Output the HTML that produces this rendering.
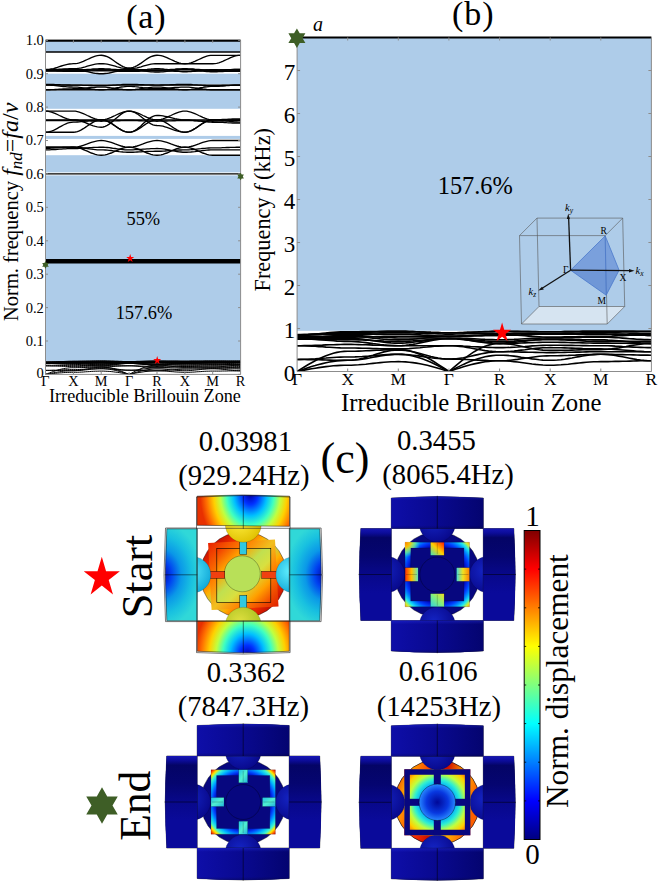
<!DOCTYPE html>
<html><head><meta charset="utf-8"><style>
html,body{margin:0;padding:0;background:#fff;width:660px;height:885px;overflow:hidden;font-family:"Liberation Serif",serif;}
svg{display:block;}
</style></head><body>
<svg width="660" height="885" viewBox="0 0 660 885">
<defs>
<clipPath id="ca"><rect x="45.5" y="39.3" width="195.1" height="335.1"/></clipPath>
<clipPath id="cb"><rect x="297.1" y="36.5" width="354.3" height="335.0"/></clipPath>
</defs>
<rect x="45.5" y="40.3" width="195.1" height="11.7" fill="#aecce9"/>
<rect x="45.5" y="73.7" width="195.1" height="10.7" fill="#aecce9"/>
<rect x="45.5" y="90.4" width="195.1" height="18.4" fill="#aecce9"/>
<rect x="45.5" y="135.9" width="195.1" height="3.0" fill="#aecce9"/>
<rect x="45.5" y="155.2" width="195.1" height="17.2" fill="#aecce9"/>
<rect x="45.5" y="175.4" width="195.1" height="83.7" fill="#aecce9"/>
<rect x="45.5" y="262.1" width="195.1" height="98.9" fill="#aecce9"/>
<g clip-path="url(#ca)" fill="none" stroke="#000" stroke-width="1.35">
<path d="M45.5,40.3 L47.5,40.3 L49.5,40.3 L51.5,40.3 L53.5,40.3 L55.5,40.3 L57.4,40.3 L59.4,40.3 L61.4,40.3 L63.4,40.3 L65.4,40.3 L67.4,40.3 L69.4,40.3 L71.4,40.3 L73.4,40.3 L75.4,40.3 L77.4,40.3 L79.3,40.3 L81.3,40.3 L83.3,40.3 L85.3,40.3 L87.3,40.3 L89.3,40.3 L91.3,40.3 L93.3,40.3 L95.3,40.3 L97.3,40.3 L99.3,40.3 L101.2,40.3 L103.2,40.3 L105.2,40.3 L107.2,40.3 L109.2,40.3 L111.2,40.3 L113.2,40.3 L115.2,40.3 L117.2,40.3 L119.2,40.3 L121.2,40.3 L123.1,40.3 L125.1,40.3 L127.1,40.3 L129.1,40.3 L131.1,40.3 L133.1,40.3 L135.1,40.3 L137.1,40.3 L139.1,40.3 L141.1,40.3 L143.0,40.3 L145.0,40.3 L147.0,40.3 L149.0,40.3 L151.0,40.3 L153.0,40.3 L155.0,40.3 L157.0,40.3 L159.0,40.3 L161.0,40.3 L163.0,40.3 L164.9,40.3 L166.9,40.3 L168.9,40.3 L170.9,40.3 L172.9,40.3 L174.9,40.3 L176.9,40.3 L178.9,40.3 L180.9,40.3 L182.9,40.3 L184.9,40.3 L186.8,40.3 L188.8,40.3 L190.8,40.3 L192.8,40.3 L194.8,40.3 L196.8,40.3 L198.8,40.3 L200.8,40.3 L202.8,40.3 L204.8,40.3 L206.8,40.3 L208.7,40.3 L210.7,40.3 L212.7,40.3 L214.7,40.3 L216.7,40.3 L218.7,40.3 L220.7,40.3 L222.7,40.3 L224.7,40.3 L226.7,40.3 L228.7,40.3 L230.6,40.3 L232.6,40.3 L234.6,40.3 L236.6,40.3 L238.6,40.3 L240.6,40.3"/>
<path d="M45.5,52.0 L47.5,52.0 L49.5,52.0 L51.5,52.0 L53.5,52.0 L55.5,52.0 L57.4,52.0 L59.4,52.0 L61.4,52.0 L63.4,52.0 L65.4,52.0 L67.4,52.0 L69.4,52.0 L71.4,52.0 L73.4,52.0 L75.4,52.0 L77.4,52.0 L79.3,52.0 L81.3,52.0 L83.3,52.0 L85.3,52.0 L87.3,52.0 L89.3,52.0 L91.3,52.0 L93.3,52.0 L95.3,52.0 L97.3,52.0 L99.3,52.0 L101.2,52.0 L103.2,52.0 L105.2,52.0 L107.2,52.0 L109.2,52.0 L111.2,52.0 L113.2,52.0 L115.2,52.0 L117.2,52.0 L119.2,52.0 L121.2,52.0 L123.1,52.0 L125.1,52.0 L127.1,52.0 L129.1,52.0 L131.1,52.0 L133.1,52.0 L135.1,52.0 L137.1,52.0 L139.1,52.0 L141.1,52.0 L143.0,52.0 L145.0,52.0 L147.0,52.0 L149.0,52.0 L151.0,52.0 L153.0,52.0 L155.0,52.0 L157.0,52.0 L159.0,52.0 L161.0,52.0 L163.0,52.0 L164.9,52.0 L166.9,52.0 L168.9,52.0 L170.9,52.0 L172.9,52.0 L174.9,52.0 L176.9,52.0 L178.9,52.0 L180.9,52.0 L182.9,52.0 L184.9,52.0 L186.8,52.0 L188.8,52.0 L190.8,52.0 L192.8,52.0 L194.8,52.0 L196.8,52.0 L198.8,52.0 L200.8,52.0 L202.8,52.0 L204.8,52.0 L206.8,52.0 L208.7,52.0 L210.7,52.0 L212.7,52.0 L214.7,52.0 L216.7,52.0 L218.7,52.0 L220.7,52.0 L222.7,52.0 L224.7,52.0 L226.7,52.0 L228.7,52.0 L230.6,52.0 L232.6,52.0 L234.6,52.0 L236.6,52.0 L238.6,52.0 L240.6,52.0"/>
<path d="M45.5,69.7 L47.5,69.6 L49.5,69.4 L51.5,69.0 L53.5,68.6 L55.5,68.0 L57.4,67.4 L59.4,66.7 L61.4,66.0 L63.4,65.4 L65.4,64.8 L67.4,64.3 L69.4,64.0 L71.4,63.8 L73.4,63.7 L75.4,63.6 L77.4,63.3 L79.3,62.8 L81.3,62.1 L83.3,61.3 L85.3,60.4 L87.3,59.5 L89.3,58.6 L91.3,57.7 L93.3,56.9 L95.3,56.2 L97.3,55.7 L99.3,55.4 L101.2,55.3 L103.2,55.5 L105.2,56.0 L107.2,56.7 L109.2,57.7 L111.2,58.9 L113.2,60.3 L115.2,61.7 L117.2,63.1 L119.2,64.4 L121.2,65.6 L123.1,66.6 L125.1,67.4 L127.1,67.9 L129.1,68.0 L131.1,67.9 L133.1,67.4 L135.1,66.6 L137.1,65.6 L139.1,64.4 L141.1,63.1 L143.0,61.7 L145.0,60.3 L147.0,58.9 L149.0,57.7 L151.0,56.7 L153.0,56.0 L155.0,55.5 L157.0,55.3 L159.0,55.4 L161.0,55.7 L163.0,56.2 L164.9,56.9 L166.9,57.7 L168.9,58.6 L170.9,59.5 L172.9,60.4 L174.9,61.3 L176.9,62.1 L178.9,62.8 L180.9,63.3 L182.9,63.6 L184.9,63.7 L186.8,63.6 L188.8,63.3 L190.8,62.8 L192.8,62.1 L194.8,61.3 L196.8,60.4 L198.8,59.5 L200.8,58.6 L202.8,57.7 L204.8,56.9 L206.8,56.2 L208.7,55.7 L210.7,55.4 L212.7,55.3 L214.7,55.3 L216.7,55.3 L218.7,55.3 L220.7,55.3 L222.7,55.3 L224.7,55.3 L226.7,55.3 L228.7,55.3 L230.6,55.3 L232.6,55.3 L234.6,55.3 L236.6,55.3 L238.6,55.3 L240.6,55.3"/>
<path d="M45.5,69.7 L47.5,69.7 L49.5,69.7 L51.5,69.6 L53.5,69.5 L55.5,69.4 L57.4,69.3 L59.4,69.2 L61.4,69.1 L63.4,69.0 L65.4,68.9 L67.4,68.8 L69.4,68.7 L71.4,68.7 L73.4,68.7 L75.4,68.6 L77.4,68.5 L79.3,68.2 L81.3,67.8 L83.3,67.3 L85.3,66.8 L87.3,66.2 L89.3,65.6 L91.3,65.1 L93.3,64.6 L95.3,64.2 L97.3,63.9 L99.3,63.7 L101.2,63.7 L103.2,63.7 L105.2,63.9 L107.2,64.2 L109.2,64.6 L111.2,65.1 L113.2,65.6 L115.2,66.2 L117.2,66.8 L119.2,67.3 L121.2,67.8 L123.1,68.2 L125.1,68.5 L127.1,68.6 L129.1,68.7 L131.1,68.6 L133.1,68.5 L135.1,68.2 L137.1,67.8 L139.1,67.3 L141.1,66.8 L143.0,66.2 L145.0,65.6 L147.0,65.1 L149.0,64.6 L151.0,64.2 L153.0,63.9 L155.0,63.7 L157.0,63.7 L159.0,63.7 L161.0,63.7 L163.0,63.7 L164.9,63.7 L166.9,63.7 L168.9,63.7 L170.9,63.7 L172.9,63.7 L174.9,63.7 L176.9,63.7 L178.9,63.7 L180.9,63.7 L182.9,63.7 L184.9,63.7 L186.8,63.7 L188.8,63.7 L190.8,63.7 L192.8,63.7 L194.8,63.7 L196.8,63.7 L198.8,63.7 L200.8,63.7 L202.8,63.7 L204.8,63.7 L206.8,63.7 L208.7,63.7 L210.7,63.7 L212.7,63.7 L214.7,63.6 L216.7,63.3 L218.7,62.8 L220.7,62.1 L222.7,61.3 L224.7,60.4 L226.7,59.5 L228.7,58.6 L230.6,57.7 L232.6,56.9 L234.6,56.2 L236.6,55.7 L238.6,55.4 L240.6,55.3"/>
<path d="M45.5,70.4 L47.5,70.4 L49.5,70.3 L51.5,70.3 L53.5,70.2 L55.5,70.2 L57.4,70.1 L59.4,70.0 L61.4,70.0 L63.4,69.9 L65.4,69.8 L67.4,69.8 L69.4,69.7 L71.4,69.7 L73.4,69.7 L75.4,69.8 L77.4,69.9 L79.3,70.1 L81.3,70.5 L83.3,70.8 L85.3,71.3 L87.3,71.7 L89.3,72.2 L91.3,72.6 L93.3,73.0 L95.3,73.3 L97.3,73.5 L99.3,73.7 L101.2,73.7 L103.2,73.7 L105.2,73.5 L107.2,73.3 L109.2,73.0 L111.2,72.6 L113.2,72.2 L115.2,71.7 L117.2,71.3 L119.2,70.8 L121.2,70.5 L123.1,70.1 L125.1,69.9 L127.1,69.8 L129.1,69.7 L131.1,69.7 L133.1,69.8 L135.1,70.0 L137.1,70.1 L139.1,70.4 L141.1,70.6 L143.0,70.9 L145.0,71.1 L147.0,71.4 L149.0,71.6 L151.0,71.8 L153.0,71.9 L155.0,72.0 L157.0,72.0 L159.0,72.0 L161.0,71.9 L163.0,71.8 L164.9,71.6 L166.9,71.4 L168.9,71.1 L170.9,70.9 L172.9,70.6 L174.9,70.4 L176.9,70.1 L178.9,70.0 L180.9,69.8 L182.9,69.7 L184.9,69.7 L186.8,69.7 L188.8,69.8 L190.8,69.9 L192.8,70.1 L194.8,70.3 L196.8,70.5 L198.8,70.7 L200.8,70.9 L202.8,71.1 L204.8,71.3 L206.8,71.5 L208.7,71.6 L210.7,71.7 L212.7,71.7 L214.7,71.7 L216.7,71.7 L218.7,71.6 L220.7,71.6 L222.7,71.5 L224.7,71.4 L226.7,71.4 L228.7,71.3 L230.6,71.2 L232.6,71.2 L234.6,71.1 L236.6,71.1 L238.6,71.0 L240.6,71.0"/>
<path d="M45.5,71.0 L47.5,71.0 L49.5,71.0 L51.5,71.0 L53.5,71.0 L55.5,71.0 L57.4,71.0 L59.4,71.0 L61.4,71.0 L63.4,71.0 L65.4,71.0 L67.4,71.0 L69.4,71.0 L71.4,71.0 L73.4,71.0 L75.4,71.0 L77.4,71.0 L79.3,70.9 L81.3,70.8 L83.3,70.7 L85.3,70.5 L87.3,70.4 L89.3,70.2 L91.3,70.1 L93.3,70.0 L95.3,69.8 L97.3,69.8 L99.3,69.7 L101.2,69.7 L103.2,69.7 L105.2,69.8 L107.2,69.8 L109.2,70.0 L111.2,70.1 L113.2,70.2 L115.2,70.4 L117.2,70.5 L119.2,70.7 L121.2,70.8 L123.1,70.9 L125.1,71.0 L127.1,71.0 L129.1,71.0 L131.1,71.0 L133.1,70.9 L135.1,70.8 L137.1,70.6 L139.1,70.4 L141.1,70.1 L143.0,69.9 L145.0,69.6 L147.0,69.4 L149.0,69.1 L151.0,69.0 L153.0,68.8 L155.0,68.7 L157.0,68.7 L159.0,68.7 L161.0,68.8 L163.0,69.0 L164.9,69.3 L166.9,69.5 L168.9,69.9 L170.9,70.2 L172.9,70.5 L174.9,70.9 L176.9,71.1 L178.9,71.4 L180.9,71.6 L182.9,71.7 L184.9,71.7 L186.8,71.7 L188.8,71.6 L190.8,71.5 L192.8,71.3 L194.8,71.1 L196.8,70.9 L198.8,70.7 L200.8,70.5 L202.8,70.3 L204.8,70.1 L206.8,69.9 L208.7,69.8 L210.7,69.7 L212.7,69.7 L214.7,69.7 L216.7,69.7 L218.7,69.8 L220.7,69.8 L222.7,69.9 L224.7,70.0 L226.7,70.0 L228.7,70.1 L230.6,70.2 L232.6,70.2 L234.6,70.3 L236.6,70.3 L238.6,70.4 L240.6,70.4"/>
<path d="M45.5,69.4 L47.5,69.4 L49.5,69.4 L51.5,69.5 L53.5,69.6 L55.5,69.7 L57.4,69.8 L59.4,69.9 L61.4,70.0 L63.4,70.1 L65.4,70.2 L67.4,70.3 L69.4,70.3 L71.4,70.4 L73.4,70.4 L75.4,70.3 L77.4,70.3 L79.3,70.2 L81.3,70.1 L83.3,69.9 L85.3,69.7 L87.3,69.5 L89.3,69.3 L91.3,69.2 L93.3,69.0 L95.3,68.9 L97.3,68.8 L99.3,68.7 L101.2,68.7 L103.2,68.7 L105.2,68.8 L107.2,68.9 L109.2,69.0 L111.2,69.2 L113.2,69.3 L115.2,69.5 L117.2,69.7 L119.2,69.9 L121.2,70.1 L123.1,70.2 L125.1,70.3 L127.1,70.3 L129.1,70.4 L131.1,70.4 L133.1,70.4 L135.1,70.4 L137.1,70.4 L139.1,70.4 L141.1,70.4 L143.0,70.4 L145.0,70.4 L147.0,70.4 L149.0,70.4 L151.0,70.4 L153.0,70.4 L155.0,70.4 L157.0,70.4 L159.0,70.3 L161.0,70.3 L163.0,70.2 L164.9,70.1 L166.9,69.9 L168.9,69.7 L170.9,69.5 L172.9,69.3 L174.9,69.2 L176.9,69.0 L178.9,68.9 L180.9,68.8 L182.9,68.7 L184.9,68.7 L186.8,68.7 L188.8,68.8 L190.8,68.9 L192.8,69.0 L194.8,69.2 L196.8,69.3 L198.8,69.5 L200.8,69.7 L202.8,69.9 L204.8,70.1 L206.8,70.2 L208.7,70.3 L210.7,70.3 L212.7,70.4 L214.7,70.4 L216.7,70.3 L218.7,70.3 L220.7,70.2 L222.7,70.1 L224.7,70.0 L226.7,69.9 L228.7,69.8 L230.6,69.7 L232.6,69.6 L234.6,69.5 L236.6,69.4 L238.6,69.4 L240.6,69.4"/>
<path d="M45.5,70.7 L47.5,70.7 L49.5,70.7 L51.5,70.8 L53.5,70.8 L55.5,70.9 L57.4,71.0 L59.4,71.0 L61.4,71.1 L63.4,71.2 L65.4,71.2 L67.4,71.3 L69.4,71.3 L71.4,71.4 L73.4,71.4 L75.4,71.4 L77.4,71.3 L79.3,71.3 L81.3,71.2 L83.3,71.2 L85.3,71.1 L87.3,71.0 L89.3,71.0 L91.3,70.9 L93.3,70.8 L95.3,70.8 L97.3,70.7 L99.3,70.7 L101.2,70.7 L103.2,70.7 L105.2,70.7 L107.2,70.8 L109.2,70.8 L111.2,70.9 L113.2,71.0 L115.2,71.0 L117.2,71.1 L119.2,71.2 L121.2,71.2 L123.1,71.3 L125.1,71.3 L127.1,71.4 L129.1,71.4 L131.1,71.4 L133.1,71.3 L135.1,71.3 L137.1,71.2 L139.1,71.2 L141.1,71.1 L143.0,71.0 L145.0,71.0 L147.0,70.9 L149.0,70.8 L151.0,70.8 L153.0,70.7 L155.0,70.7 L157.0,70.7 L159.0,70.7 L161.0,70.7 L163.0,70.8 L164.9,70.8 L166.9,70.9 L168.9,71.0 L170.9,71.0 L172.9,71.1 L174.9,71.2 L176.9,71.2 L178.9,71.3 L180.9,71.3 L182.9,71.4 L184.9,71.4 L186.8,71.4 L188.8,71.3 L190.8,71.3 L192.8,71.2 L194.8,71.2 L196.8,71.1 L198.8,71.0 L200.8,71.0 L202.8,70.9 L204.8,70.8 L206.8,70.8 L208.7,70.7 L210.7,70.7 L212.7,70.7 L214.7,70.7 L216.7,70.7 L218.7,70.8 L220.7,70.8 L222.7,70.9 L224.7,71.0 L226.7,71.0 L228.7,71.1 L230.6,71.2 L232.6,71.2 L234.6,71.3 L236.6,71.3 L238.6,71.4 L240.6,71.4"/>
<path d="M45.5,70.0 L47.5,70.0 L49.5,70.0 L51.5,70.0 L53.5,69.9 L55.5,69.8 L57.4,69.8 L59.4,69.7 L61.4,69.6 L63.4,69.6 L65.4,69.5 L67.4,69.4 L69.4,69.4 L71.4,69.4 L73.4,69.4 L75.4,69.4 L77.4,69.4 L79.3,69.4 L81.3,69.5 L83.3,69.6 L85.3,69.6 L87.3,69.7 L89.3,69.8 L91.3,69.8 L93.3,69.9 L95.3,70.0 L97.3,70.0 L99.3,70.0 L101.2,70.0 L103.2,70.0 L105.2,70.0 L107.2,70.0 L109.2,69.9 L111.2,69.8 L113.2,69.8 L115.2,69.7 L117.2,69.6 L119.2,69.6 L121.2,69.5 L123.1,69.4 L125.1,69.4 L127.1,69.4 L129.1,69.4 L131.1,69.4 L133.1,69.4 L135.1,69.4 L137.1,69.5 L139.1,69.6 L141.1,69.6 L143.0,69.7 L145.0,69.8 L147.0,69.8 L149.0,69.9 L151.0,70.0 L153.0,70.0 L155.0,70.0 L157.0,70.0 L159.0,70.0 L161.0,70.0 L163.0,70.0 L164.9,69.9 L166.9,69.8 L168.9,69.8 L170.9,69.7 L172.9,69.6 L174.9,69.6 L176.9,69.5 L178.9,69.4 L180.9,69.4 L182.9,69.4 L184.9,69.4 L186.8,69.4 L188.8,69.4 L190.8,69.4 L192.8,69.5 L194.8,69.6 L196.8,69.6 L198.8,69.7 L200.8,69.8 L202.8,69.8 L204.8,69.9 L206.8,70.0 L208.7,70.0 L210.7,70.0 L212.7,70.0 L214.7,70.0 L216.7,70.0 L218.7,70.0 L220.7,69.9 L222.7,69.8 L224.7,69.8 L226.7,69.7 L228.7,69.6 L230.6,69.6 L232.6,69.5 L234.6,69.4 L236.6,69.4 L238.6,69.4 L240.6,69.4"/>
<path d="M45.5,84.4 L47.5,84.4 L49.5,84.4 L51.5,84.5 L53.5,84.5 L55.5,84.6 L57.4,84.7 L59.4,84.7 L61.4,84.8 L63.4,84.9 L65.4,84.9 L67.4,85.0 L69.4,85.0 L71.4,85.1 L73.4,85.1 L75.4,85.1 L77.4,85.1 L79.3,85.1 L81.3,85.2 L83.3,85.3 L85.3,85.3 L87.3,85.4 L89.3,85.5 L91.3,85.5 L93.3,85.6 L95.3,85.7 L97.3,85.7 L99.3,85.7 L101.2,85.7 L103.2,85.7 L105.2,85.7 L107.2,85.6 L109.2,85.5 L111.2,85.4 L113.2,85.2 L115.2,85.1 L117.2,84.9 L119.2,84.8 L121.2,84.7 L123.1,84.5 L125.1,84.5 L127.1,84.4 L129.1,84.4 L131.1,84.4 L133.1,84.4 L135.1,84.5 L137.1,84.5 L139.1,84.6 L141.1,84.7 L143.0,84.7 L145.0,84.8 L147.0,84.9 L149.0,84.9 L151.0,85.0 L153.0,85.0 L155.0,85.1 L157.0,85.1 L159.0,85.1 L161.0,85.0 L163.0,85.0 L164.9,84.9 L166.9,84.9 L168.9,84.8 L170.9,84.7 L172.9,84.7 L174.9,84.6 L176.9,84.5 L178.9,84.5 L180.9,84.4 L182.9,84.4 L184.9,84.4 L186.8,84.4 L188.8,84.5 L190.8,84.5 L192.8,84.7 L194.8,84.8 L196.8,84.9 L198.8,85.1 L200.8,85.2 L202.8,85.4 L204.8,85.5 L206.8,85.6 L208.7,85.7 L210.7,85.7 L212.7,85.7 L214.7,85.7 L216.7,85.7 L218.7,85.7 L220.7,85.6 L222.7,85.5 L224.7,85.5 L226.7,85.4 L228.7,85.3 L230.6,85.3 L232.6,85.2 L234.6,85.1 L236.6,85.1 L238.6,85.1 L240.6,85.1"/>
<path d="M45.5,85.1 L47.5,85.1 L49.5,85.2 L51.5,85.3 L53.5,85.4 L55.5,85.6 L57.4,85.8 L59.4,86.1 L61.4,86.3 L63.4,86.5 L65.4,86.7 L67.4,86.9 L69.4,87.0 L71.4,87.0 L73.4,87.1 L75.4,87.1 L77.4,87.2 L79.3,87.4 L81.3,87.6 L83.3,87.8 L85.3,88.1 L87.3,88.4 L89.3,88.7 L91.3,89.0 L93.3,89.2 L95.3,89.5 L97.3,89.6 L99.3,89.7 L101.2,89.7 L103.2,89.7 L105.2,89.6 L107.2,89.4 L109.2,89.1 L111.2,88.8 L113.2,88.4 L115.2,88.1 L117.2,87.7 L119.2,87.4 L121.2,87.0 L123.1,86.8 L125.1,86.6 L127.1,86.4 L129.1,86.4 L131.1,86.4 L133.1,86.5 L135.1,86.7 L137.1,86.8 L139.1,87.1 L141.1,87.3 L143.0,87.6 L145.0,87.8 L147.0,88.1 L149.0,88.3 L151.0,88.5 L153.0,88.6 L155.0,88.7 L157.0,88.7 L159.0,88.7 L161.0,88.7 L163.0,88.6 L164.9,88.4 L166.9,88.3 L168.9,88.1 L170.9,87.9 L172.9,87.7 L174.9,87.5 L176.9,87.4 L178.9,87.3 L180.9,87.2 L182.9,87.1 L184.9,87.1 L186.8,87.1 L188.8,87.2 L190.8,87.4 L192.8,87.6 L194.8,87.8 L196.8,88.1 L198.8,88.4 L200.8,88.7 L202.8,89.0 L204.8,89.2 L206.8,89.5 L208.7,89.6 L210.7,89.7 L212.7,89.7 L214.7,89.7 L216.7,89.7 L218.7,89.7 L220.7,89.7 L222.7,89.7 L224.7,89.7 L226.7,89.7 L228.7,89.7 L230.6,89.7 L232.6,89.7 L234.6,89.7 L236.6,89.7 L238.6,89.7 L240.6,89.7"/>
<path d="M45.5,89.7 L47.5,89.7 L49.5,89.7 L51.5,89.6 L53.5,89.6 L55.5,89.5 L57.4,89.4 L59.4,89.2 L61.4,89.1 L63.4,89.0 L65.4,88.9 L67.4,88.9 L69.4,88.8 L71.4,88.8 L73.4,88.7 L75.4,88.7 L77.4,88.7 L79.3,88.6 L81.3,88.4 L83.3,88.3 L85.3,88.1 L87.3,87.9 L89.3,87.7 L91.3,87.5 L93.3,87.4 L95.3,87.3 L97.3,87.2 L99.3,87.1 L101.2,87.1 L103.2,87.1 L105.2,87.2 L107.2,87.4 L109.2,87.6 L111.2,87.8 L113.2,88.1 L115.2,88.4 L117.2,88.7 L119.2,89.0 L121.2,89.2 L123.1,89.5 L125.1,89.6 L127.1,89.7 L129.1,89.7 L131.1,89.7 L133.1,89.6 L135.1,89.5 L137.1,89.2 L139.1,89.0 L141.1,88.7 L143.0,88.4 L145.0,88.1 L147.0,87.8 L149.0,87.6 L151.0,87.4 L153.0,87.2 L155.0,87.1 L157.0,87.1 L159.0,87.1 L161.0,87.2 L163.0,87.4 L164.9,87.6 L166.9,87.8 L168.9,88.1 L170.9,88.4 L172.9,88.7 L174.9,89.0 L176.9,89.2 L178.9,89.5 L180.9,89.6 L182.9,89.7 L184.9,89.7 L186.8,89.7 L188.8,89.6 L190.8,89.4 L192.8,89.1 L194.8,88.8 L196.8,88.4 L198.8,88.1 L200.8,87.7 L202.8,87.4 L204.8,87.0 L206.8,86.8 L208.7,86.6 L210.7,86.4 L212.7,86.4 L214.7,86.4 L216.7,86.3 L218.7,86.3 L220.7,86.2 L222.7,86.0 L224.7,85.9 L226.7,85.7 L228.7,85.6 L230.6,85.4 L232.6,85.3 L234.6,85.2 L236.6,85.1 L238.6,85.1 L240.6,85.1"/>
<path d="M45.5,89.7 L47.5,89.7 L49.5,89.7 L51.5,89.7 L53.5,89.7 L55.5,89.7 L57.4,89.7 L59.4,89.7 L61.4,89.7 L63.4,89.7 L65.4,89.7 L67.4,89.7 L69.4,89.7 L71.4,89.7 L73.4,89.7 L75.4,89.7 L77.4,89.7 L79.3,89.7 L81.3,89.7 L83.3,89.7 L85.3,89.7 L87.3,89.7 L89.3,89.7 L91.3,89.7 L93.3,89.7 L95.3,89.7 L97.3,89.7 L99.3,89.7 L101.2,89.7 L103.2,89.7 L105.2,89.7 L107.2,89.7 L109.2,89.7 L111.2,89.7 L113.2,89.7 L115.2,89.7 L117.2,89.7 L119.2,89.7 L121.2,89.7 L123.1,89.7 L125.1,89.7 L127.1,89.7 L129.1,89.7 L131.1,89.7 L133.1,89.7 L135.1,89.7 L137.1,89.7 L139.1,89.7 L141.1,89.7 L143.0,89.7 L145.0,89.7 L147.0,89.7 L149.0,89.7 L151.0,89.7 L153.0,89.7 L155.0,89.7 L157.0,89.7 L159.0,89.7 L161.0,89.7 L163.0,89.7 L164.9,89.7 L166.9,89.7 L168.9,89.7 L170.9,89.7 L172.9,89.7 L174.9,89.7 L176.9,89.7 L178.9,89.7 L180.9,89.7 L182.9,89.7 L184.9,89.7 L186.8,89.7 L188.8,89.7 L190.8,89.7 L192.8,89.7 L194.8,89.7 L196.8,89.7 L198.8,89.7 L200.8,89.7 L202.8,89.7 L204.8,89.7 L206.8,89.7 L208.7,89.7 L210.7,89.7 L212.7,89.7 L214.7,89.7 L216.7,89.7 L218.7,89.7 L220.7,89.7 L222.7,89.7 L224.7,89.7 L226.7,89.7 L228.7,89.7 L230.6,89.7 L232.6,89.7 L234.6,89.7 L236.6,89.7 L238.6,89.7 L240.6,89.7"/>
<path d="M45.5,85.1 L47.5,85.1 L49.5,85.1 L51.5,85.1 L53.5,85.1 L55.5,85.1 L57.4,85.1 L59.4,85.1 L61.4,85.1 L63.4,85.1 L65.4,85.1 L67.4,85.1 L69.4,85.1 L71.4,85.1 L73.4,85.1 L75.4,85.1 L77.4,85.1 L79.3,85.1 L81.3,85.1 L83.3,85.1 L85.3,85.1 L87.3,85.1 L89.3,85.1 L91.3,85.1 L93.3,85.1 L95.3,85.1 L97.3,85.1 L99.3,85.1 L101.2,85.1 L103.2,85.1 L105.2,85.1 L107.2,85.1 L109.2,85.1 L111.2,85.1 L113.2,85.1 L115.2,85.1 L117.2,85.1 L119.2,85.1 L121.2,85.1 L123.1,85.1 L125.1,85.1 L127.1,85.1 L129.1,85.1 L131.1,85.1 L133.1,85.1 L135.1,85.1 L137.1,85.1 L139.1,85.1 L141.1,85.1 L143.0,85.1 L145.0,85.1 L147.0,85.1 L149.0,85.1 L151.0,85.1 L153.0,85.1 L155.0,85.1 L157.0,85.1 L159.0,85.1 L161.0,85.1 L163.0,85.1 L164.9,85.1 L166.9,85.1 L168.9,85.1 L170.9,85.1 L172.9,85.1 L174.9,85.1 L176.9,85.1 L178.9,85.1 L180.9,85.1 L182.9,85.1 L184.9,85.1 L186.8,85.1 L188.8,85.1 L190.8,85.1 L192.8,85.1 L194.8,85.1 L196.8,85.1 L198.8,85.1 L200.8,85.1 L202.8,85.1 L204.8,85.1 L206.8,85.1 L208.7,85.1 L210.7,85.1 L212.7,85.1 L214.7,85.1 L216.7,85.1 L218.7,85.1 L220.7,85.1 L222.7,85.1 L224.7,85.1 L226.7,85.1 L228.7,85.1 L230.6,85.1 L232.6,85.1 L234.6,85.1 L236.6,85.1 L238.6,85.1 L240.6,85.1"/>
<path d="M45.5,111.1 L47.5,111.1 L49.5,111.1 L51.5,111.1 L53.5,111.1 L55.5,111.1 L57.4,111.1 L59.4,111.1 L61.4,111.1 L63.4,111.1 L65.4,111.1 L67.4,111.1 L69.4,111.1 L71.4,111.1 L73.4,111.1 L75.4,111.2 L77.4,111.6 L79.3,112.1 L81.3,112.8 L83.3,113.6 L85.3,114.5 L87.3,115.5 L89.3,116.4 L91.3,117.4 L93.3,118.2 L95.3,118.9 L97.3,119.4 L99.3,119.7 L101.2,119.8 L103.2,120.0 L105.2,120.4 L107.2,121.2 L109.2,122.1 L111.2,123.3 L113.2,124.6 L115.2,126.0 L117.2,127.4 L119.2,128.7 L121.2,129.9 L123.1,130.8 L125.1,131.6 L127.1,132.0 L129.1,132.2 L131.1,132.0 L133.1,131.6 L135.1,130.8 L137.1,129.9 L139.1,128.7 L141.1,127.4 L143.0,126.0 L145.0,124.6 L147.0,123.3 L149.0,122.1 L151.0,121.2 L153.0,120.4 L155.0,120.0 L157.0,119.8 L159.0,119.7 L161.0,119.4 L163.0,118.9 L164.9,118.2 L166.9,117.4 L168.9,116.4 L170.9,115.5 L172.9,114.5 L174.9,113.6 L176.9,112.8 L178.9,112.1 L180.9,111.6 L182.9,111.2 L184.9,111.1 L186.8,111.2 L188.8,111.6 L190.8,112.1 L192.8,112.8 L194.8,113.6 L196.8,114.5 L198.8,115.5 L200.8,116.4 L202.8,117.4 L204.8,118.2 L206.8,118.9 L208.7,119.4 L210.7,119.7 L212.7,119.8 L214.7,119.8 L216.7,119.8 L218.7,119.8 L220.7,119.8 L222.7,119.8 L224.7,119.8 L226.7,119.8 L228.7,119.8 L230.6,119.8 L232.6,119.8 L234.6,119.8 L236.6,119.8 L238.6,119.8 L240.6,119.8"/>
<path d="M45.5,111.1 L47.5,111.2 L49.5,111.6 L51.5,112.1 L53.5,112.8 L55.5,113.6 L57.4,114.5 L59.4,115.5 L61.4,116.4 L63.4,117.4 L65.4,118.2 L67.4,118.9 L69.4,119.4 L71.4,119.7 L73.4,119.8 L75.4,119.9 L77.4,120.2 L79.3,120.6 L81.3,121.2 L83.3,121.9 L85.3,122.7 L87.3,123.5 L89.3,124.3 L91.3,125.1 L93.3,125.8 L95.3,126.4 L97.3,126.8 L99.3,127.1 L101.2,127.2 L103.2,127.0 L105.2,126.4 L107.2,125.4 L109.2,124.1 L111.2,122.6 L113.2,120.9 L115.2,119.1 L117.2,117.4 L119.2,115.7 L121.2,114.1 L123.1,112.9 L125.1,111.9 L127.1,111.3 L129.1,111.1 L131.1,111.3 L133.1,111.8 L135.1,112.7 L137.1,113.8 L139.1,115.2 L141.1,116.7 L143.0,118.3 L145.0,119.9 L147.0,121.4 L149.0,122.8 L151.0,123.9 L153.0,124.8 L155.0,125.3 L157.0,125.5 L159.0,125.6 L161.0,125.8 L163.0,126.2 L164.9,126.8 L166.9,127.4 L168.9,128.1 L170.9,128.8 L172.9,129.6 L174.9,130.3 L176.9,130.9 L178.9,131.4 L180.9,131.8 L182.9,132.1 L184.9,132.2 L186.8,132.0 L188.8,131.6 L190.8,130.8 L192.8,129.9 L194.8,128.7 L196.8,127.4 L198.8,126.0 L200.8,124.6 L202.8,123.3 L204.8,122.1 L206.8,121.2 L208.7,120.4 L210.7,120.0 L212.7,119.8 L214.7,119.8 L216.7,119.8 L218.7,119.8 L220.7,119.8 L222.7,119.8 L224.7,119.8 L226.7,119.8 L228.7,119.8 L230.6,119.8 L232.6,119.8 L234.6,119.8 L236.6,119.8 L238.6,119.8 L240.6,119.8"/>
<path d="M45.5,132.2 L47.5,132.1 L49.5,131.7 L51.5,131.1 L53.5,130.3 L55.5,129.3 L57.4,128.3 L59.4,127.2 L61.4,126.1 L63.4,125.0 L65.4,124.0 L67.4,123.2 L69.4,122.7 L71.4,122.3 L73.4,122.2 L75.4,122.1 L77.4,122.0 L79.3,121.9 L81.3,121.7 L83.3,121.5 L85.3,121.2 L87.3,121.0 L89.3,120.7 L91.3,120.5 L93.3,120.3 L95.3,120.1 L97.3,119.9 L99.3,119.8 L101.2,119.8 L103.2,119.7 L105.2,119.4 L107.2,118.9 L109.2,118.2 L111.2,117.4 L113.2,116.4 L115.2,115.5 L117.2,114.5 L119.2,113.6 L121.2,112.8 L123.1,112.1 L125.1,111.6 L127.1,111.2 L129.1,111.1 L131.1,111.2 L133.1,111.6 L135.1,112.1 L137.1,112.8 L139.1,113.6 L141.1,114.5 L143.0,115.5 L145.0,116.4 L147.0,117.4 L149.0,118.2 L151.0,118.9 L153.0,119.4 L155.0,119.7 L157.0,119.8 L159.0,120.0 L161.0,120.4 L163.0,121.2 L164.9,122.1 L166.9,123.3 L168.9,124.6 L170.9,126.0 L172.9,127.4 L174.9,128.7 L176.9,129.9 L178.9,130.8 L180.9,131.6 L182.9,132.0 L184.9,132.2 L186.8,132.0 L188.8,131.6 L190.8,130.8 L192.8,129.9 L194.8,128.7 L196.8,127.4 L198.8,126.0 L200.8,124.6 L202.8,123.3 L204.8,122.1 L206.8,121.2 L208.7,120.4 L210.7,120.0 L212.7,119.8 L214.7,119.8 L216.7,119.9 L218.7,120.1 L220.7,120.3 L222.7,120.5 L224.7,120.7 L226.7,121.0 L228.7,121.2 L230.6,121.5 L232.6,121.7 L234.6,121.9 L236.6,122.0 L238.6,122.1 L240.6,122.2"/>
<path d="M45.5,132.2 L47.5,132.2 L49.5,132.2 L51.5,132.2 L53.5,132.2 L55.5,132.2 L57.4,132.2 L59.4,132.2 L61.4,132.2 L63.4,132.2 L65.4,132.2 L67.4,132.2 L69.4,132.2 L71.4,132.2 L73.4,132.2 L75.4,132.0 L77.4,131.6 L79.3,130.8 L81.3,129.9 L83.3,128.7 L85.3,127.4 L87.3,126.0 L89.3,124.6 L91.3,123.3 L93.3,122.1 L95.3,121.2 L97.3,120.4 L99.3,120.0 L101.2,119.8 L103.2,120.0 L105.2,120.4 L107.2,121.2 L109.2,122.1 L111.2,123.3 L113.2,124.6 L115.2,126.0 L117.2,127.4 L119.2,128.7 L121.2,129.9 L123.1,130.8 L125.1,131.6 L127.1,132.0 L129.1,132.2 L131.1,132.0 L133.1,131.4 L135.1,130.4 L137.1,129.0 L139.1,127.4 L141.1,125.7 L143.0,123.8 L145.0,122.0 L147.0,120.2 L149.0,118.6 L151.0,117.3 L153.0,116.3 L155.0,115.7 L157.0,115.5 L159.0,115.5 L161.0,115.7 L163.0,115.9 L164.9,116.3 L166.9,116.7 L168.9,117.2 L170.9,117.6 L172.9,118.1 L174.9,118.6 L176.9,119.0 L178.9,119.3 L180.9,119.6 L182.9,119.8 L184.9,119.8 L186.8,119.8 L188.8,119.9 L190.8,120.1 L192.8,120.3 L194.8,120.5 L196.8,120.7 L198.8,121.0 L200.8,121.2 L202.8,121.5 L204.8,121.7 L206.8,121.9 L208.7,122.0 L210.7,122.1 L212.7,122.2 L214.7,122.2 L216.7,122.2 L218.7,122.3 L220.7,122.3 L222.7,122.4 L224.7,122.5 L226.7,122.7 L228.7,122.8 L230.6,122.9 L232.6,123.0 L234.6,123.0 L236.6,123.1 L238.6,123.1 L240.6,123.2"/>
<path d="M45.5,119.8 L47.5,119.8 L49.5,119.8 L51.5,119.8 L53.5,119.8 L55.5,119.8 L57.4,119.8 L59.4,119.8 L61.4,119.8 L63.4,119.8 L65.4,119.8 L67.4,119.8 L69.4,119.8 L71.4,119.8 L73.4,119.8 L75.4,119.8 L77.4,119.8 L79.3,119.8 L81.3,119.8 L83.3,119.8 L85.3,119.8 L87.3,119.8 L89.3,119.8 L91.3,119.8 L93.3,119.8 L95.3,119.8 L97.3,119.8 L99.3,119.8 L101.2,119.8 L103.2,119.8 L105.2,119.8 L107.2,119.8 L109.2,119.8 L111.2,119.8 L113.2,119.8 L115.2,119.8 L117.2,119.8 L119.2,119.8 L121.2,119.8 L123.1,119.8 L125.1,119.8 L127.1,119.8 L129.1,119.8 L131.1,119.8 L133.1,119.8 L135.1,119.8 L137.1,119.8 L139.1,119.8 L141.1,119.8 L143.0,119.8 L145.0,119.8 L147.0,119.8 L149.0,119.8 L151.0,119.8 L153.0,119.8 L155.0,119.8 L157.0,119.8 L159.0,119.8 L161.0,119.8 L163.0,119.8 L164.9,119.8 L166.9,119.8 L168.9,119.8 L170.9,119.8 L172.9,119.8 L174.9,119.8 L176.9,119.8 L178.9,119.8 L180.9,119.8 L182.9,119.8 L184.9,119.8 L186.8,119.8 L188.8,119.8 L190.8,119.8 L192.8,119.8 L194.8,119.8 L196.8,119.8 L198.8,119.8 L200.8,119.8 L202.8,119.8 L204.8,119.8 L206.8,119.8 L208.7,119.8 L210.7,119.8 L212.7,119.8 L214.7,119.8 L216.7,119.8 L218.7,119.7 L220.7,119.6 L222.7,119.5 L224.7,119.4 L226.7,119.3 L228.7,119.2 L230.6,119.1 L232.6,119.0 L234.6,118.9 L236.6,118.9 L238.6,118.8 L240.6,118.8"/>
<path d="M45.5,120.5 L47.5,120.5 L49.5,120.5 L51.5,120.5 L53.5,120.5 L55.5,120.5 L57.4,120.5 L59.4,120.5 L61.4,120.5 L63.4,120.5 L65.4,120.5 L67.4,120.5 L69.4,120.5 L71.4,120.5 L73.4,120.5 L75.4,120.5 L77.4,120.5 L79.3,120.6 L81.3,120.6 L83.3,120.7 L85.3,120.7 L87.3,120.8 L89.3,120.9 L91.3,121.0 L93.3,121.0 L95.3,121.1 L97.3,121.1 L99.3,121.1 L101.2,121.2 L103.2,121.1 L105.2,121.1 L107.2,121.1 L109.2,121.0 L111.2,121.0 L113.2,120.9 L115.2,120.8 L117.2,120.7 L119.2,120.7 L121.2,120.6 L123.1,120.6 L125.1,120.5 L127.1,120.5 L129.1,120.5 L131.1,120.5 L133.1,120.5 L135.1,120.6 L137.1,120.6 L139.1,120.7 L141.1,120.7 L143.0,120.8 L145.0,120.9 L147.0,121.0 L149.0,121.0 L151.0,121.1 L153.0,121.1 L155.0,121.1 L157.0,121.2 L159.0,121.1 L161.0,121.1 L163.0,121.1 L164.9,121.0 L166.9,121.0 L168.9,120.9 L170.9,120.8 L172.9,120.7 L174.9,120.7 L176.9,120.6 L178.9,120.6 L180.9,120.5 L182.9,120.5 L184.9,120.5 L186.8,120.5 L188.8,120.5 L190.8,120.6 L192.8,120.6 L194.8,120.7 L196.8,120.7 L198.8,120.8 L200.8,120.9 L202.8,121.0 L204.8,121.0 L206.8,121.1 L208.7,121.1 L210.7,121.1 L212.7,121.2 L214.7,121.1 L216.7,121.1 L218.7,121.1 L220.7,121.0 L222.7,121.0 L224.7,120.9 L226.7,120.8 L228.7,120.7 L230.6,120.7 L232.6,120.6 L234.6,120.6 L236.6,120.5 L238.6,120.5 L240.6,120.5"/>
<path d="M45.5,147.2 L47.5,147.2 L49.5,147.2 L51.5,147.2 L53.5,147.2 L55.5,147.2 L57.4,147.2 L59.4,147.2 L61.4,147.2 L63.4,147.2 L65.4,147.2 L67.4,147.2 L69.4,147.2 L71.4,147.2 L73.4,147.2 L75.4,147.1 L77.4,146.9 L79.3,146.5 L81.3,146.0 L83.3,145.3 L85.3,144.6 L87.3,143.9 L89.3,143.1 L91.3,142.4 L93.3,141.8 L95.3,141.3 L97.3,140.9 L99.3,140.6 L101.2,140.5 L103.2,140.6 L105.2,140.9 L107.2,141.3 L109.2,141.8 L111.2,142.4 L113.2,143.1 L115.2,143.9 L117.2,144.6 L119.2,145.3 L121.2,146.0 L123.1,146.5 L125.1,146.9 L127.1,147.1 L129.1,147.2 L131.1,147.1 L133.1,146.9 L135.1,146.5 L137.1,146.0 L139.1,145.3 L141.1,144.6 L143.0,143.9 L145.0,143.1 L147.0,142.4 L149.0,141.8 L151.0,141.3 L153.0,140.9 L155.0,140.6 L157.0,140.5 L159.0,140.6 L161.0,140.9 L163.0,141.3 L164.9,141.8 L166.9,142.4 L168.9,143.1 L170.9,143.9 L172.9,144.6 L174.9,145.3 L176.9,146.0 L178.9,146.5 L180.9,146.9 L182.9,147.1 L184.9,147.2 L186.8,147.1 L188.8,146.9 L190.8,146.5 L192.8,146.0 L194.8,145.3 L196.8,144.6 L198.8,143.9 L200.8,143.1 L202.8,142.4 L204.8,141.8 L206.8,141.3 L208.7,140.9 L210.7,140.6 L212.7,140.5 L214.7,140.5 L216.7,140.5 L218.7,140.5 L220.7,140.5 L222.7,140.5 L224.7,140.5 L226.7,140.5 L228.7,140.5 L230.6,140.5 L232.6,140.5 L234.6,140.5 L236.6,140.5 L238.6,140.5 L240.6,140.5"/>
<path d="M45.5,147.2 L47.5,147.2 L49.5,147.2 L51.5,147.2 L53.5,147.2 L55.5,147.2 L57.4,147.2 L59.4,147.2 L61.4,147.2 L63.4,147.2 L65.4,147.2 L67.4,147.2 L69.4,147.2 L71.4,147.2 L73.4,147.2 L75.4,147.3 L77.4,147.6 L79.3,148.1 L81.3,148.7 L83.3,149.5 L85.3,150.3 L87.3,151.2 L89.3,152.1 L91.3,153.0 L93.3,153.7 L95.3,154.4 L97.3,154.8 L99.3,155.1 L101.2,155.2 L103.2,155.1 L105.2,154.8 L107.2,154.4 L109.2,153.7 L111.2,153.0 L113.2,152.1 L115.2,151.2 L117.2,150.3 L119.2,149.5 L121.2,148.7 L123.1,148.1 L125.1,147.6 L127.1,147.3 L129.1,147.2 L131.1,147.3 L133.1,147.6 L135.1,148.1 L137.1,148.7 L139.1,149.5 L141.1,150.3 L143.0,151.2 L145.0,152.1 L147.0,153.0 L149.0,153.7 L151.0,154.4 L153.0,154.8 L155.0,155.1 L157.0,155.2 L159.0,155.1 L161.0,154.8 L163.0,154.4 L164.9,153.7 L166.9,153.0 L168.9,152.1 L170.9,151.2 L172.9,150.3 L174.9,149.5 L176.9,148.7 L178.9,148.1 L180.9,147.6 L182.9,147.3 L184.9,147.2 L186.8,147.3 L188.8,147.6 L190.8,148.1 L192.8,148.7 L194.8,149.5 L196.8,150.3 L198.8,151.2 L200.8,152.1 L202.8,153.0 L204.8,153.7 L206.8,154.4 L208.7,154.8 L210.7,155.1 L212.7,155.2 L214.7,155.2 L216.7,155.2 L218.7,155.2 L220.7,155.2 L222.7,155.2 L224.7,155.2 L226.7,155.2 L228.7,155.2 L230.6,155.2 L232.6,155.2 L234.6,155.2 L236.6,155.2 L238.6,155.2 L240.6,155.2"/>
<path d="M45.5,148.2 L47.5,148.2 L49.5,148.2 L51.5,148.1 L53.5,148.0 L55.5,147.9 L57.4,147.8 L59.4,147.7 L61.4,147.6 L63.4,147.5 L65.4,147.4 L67.4,147.3 L69.4,147.3 L71.4,147.2 L73.4,147.2 L75.4,147.2 L77.4,147.3 L79.3,147.5 L81.3,147.7 L83.3,148.0 L85.3,148.3 L87.3,148.5 L89.3,148.8 L91.3,149.1 L93.3,149.4 L95.3,149.6 L97.3,149.8 L99.3,149.9 L101.2,149.9 L103.2,149.9 L105.2,150.0 L107.2,150.1 L109.2,150.3 L111.2,150.5 L113.2,150.8 L115.2,151.1 L117.2,151.3 L119.2,151.6 L121.2,151.8 L123.1,152.0 L125.1,152.1 L127.1,152.2 L129.1,152.2 L131.1,152.2 L133.1,152.2 L135.1,152.1 L137.1,152.0 L139.1,151.9 L141.1,151.8 L143.0,151.7 L145.0,151.6 L147.0,151.5 L149.0,151.4 L151.0,151.3 L153.0,151.3 L155.0,151.2 L157.0,151.2 L159.0,151.2 L161.0,151.2 L163.0,151.1 L164.9,151.0 L166.9,150.8 L168.9,150.7 L170.9,150.6 L172.9,150.4 L174.9,150.3 L176.9,150.1 L178.9,150.0 L180.9,150.0 L182.9,149.9 L184.9,149.9 L186.8,149.9 L188.8,149.8 L190.8,149.7 L192.8,149.5 L194.8,149.3 L196.8,149.1 L198.8,148.9 L200.8,148.7 L202.8,148.4 L204.8,148.3 L206.8,148.1 L208.7,148.0 L210.7,147.9 L212.7,147.9 L214.7,147.9 L216.7,147.8 L218.7,147.8 L220.7,147.8 L222.7,147.7 L224.7,147.6 L226.7,147.5 L228.7,147.5 L230.6,147.4 L232.6,147.3 L234.6,147.3 L236.6,147.2 L238.6,147.2 L240.6,147.2"/>
<path d="M45.5,149.9 L47.5,149.9 L49.5,149.8 L51.5,149.7 L53.5,149.6 L55.5,149.5 L57.4,149.4 L59.4,149.2 L61.4,149.1 L63.4,148.9 L65.4,148.8 L67.4,148.7 L69.4,148.6 L71.4,148.6 L73.4,148.5 L75.4,148.5 L77.4,148.5 L79.3,148.4 L81.3,148.3 L83.3,148.2 L85.3,148.0 L87.3,147.9 L89.3,147.7 L91.3,147.6 L93.3,147.5 L95.3,147.4 L97.3,147.3 L99.3,147.2 L101.2,147.2 L103.2,147.2 L105.2,147.3 L107.2,147.5 L109.2,147.7 L111.2,148.0 L113.2,148.3 L115.2,148.5 L117.2,148.8 L119.2,149.1 L121.2,149.4 L123.1,149.6 L125.1,149.8 L127.1,149.9 L129.1,149.9 L131.1,149.9 L133.1,149.8 L135.1,149.7 L137.1,149.6 L139.1,149.5 L141.1,149.4 L143.0,149.2 L145.0,149.1 L147.0,148.9 L149.0,148.8 L151.0,148.7 L153.0,148.6 L155.0,148.6 L157.0,148.5 L159.0,148.6 L161.0,148.7 L163.0,148.9 L164.9,149.2 L166.9,149.6 L168.9,150.0 L170.9,150.4 L172.9,150.8 L174.9,151.2 L176.9,151.5 L178.9,151.8 L180.9,152.0 L182.9,152.2 L184.9,152.2 L186.8,152.2 L188.8,152.1 L190.8,152.0 L192.8,151.8 L194.8,151.6 L196.8,151.3 L198.8,151.1 L200.8,150.8 L202.8,150.5 L204.8,150.3 L206.8,150.1 L208.7,150.0 L210.7,149.9 L212.7,149.9 L214.7,149.9 L216.7,149.9 L218.7,149.9 L220.7,149.9 L222.7,149.9 L224.7,149.9 L226.7,149.9 L228.7,149.9 L230.6,149.9 L232.6,149.9 L234.6,149.9 L236.6,149.9 L238.6,149.9 L240.6,149.9"/>
<path d="M45.5,173.9 L47.5,173.9 L49.5,173.9 L51.5,173.9 L53.5,173.9 L55.5,173.9 L57.4,173.9 L59.4,173.9 L61.4,173.9 L63.4,173.9 L65.4,173.9 L67.4,173.9 L69.4,173.9 L71.4,173.9 L73.4,173.9 L75.4,173.9 L77.4,173.9 L79.3,173.9 L81.3,173.9 L83.3,173.9 L85.3,173.9 L87.3,173.9 L89.3,173.9 L91.3,173.9 L93.3,173.9 L95.3,173.9 L97.3,173.9 L99.3,173.9 L101.2,173.9 L103.2,173.9 L105.2,173.9 L107.2,173.9 L109.2,173.9 L111.2,173.9 L113.2,173.9 L115.2,173.9 L117.2,173.9 L119.2,173.9 L121.2,173.9 L123.1,173.9 L125.1,173.9 L127.1,173.9 L129.1,173.9 L131.1,173.9 L133.1,173.9 L135.1,173.9 L137.1,173.9 L139.1,173.9 L141.1,173.9 L143.0,173.9 L145.0,173.9 L147.0,173.9 L149.0,173.9 L151.0,173.9 L153.0,173.9 L155.0,173.9 L157.0,173.9 L159.0,173.9 L161.0,173.9 L163.0,173.9 L164.9,173.9 L166.9,173.9 L168.9,173.9 L170.9,173.9 L172.9,173.9 L174.9,173.9 L176.9,173.9 L178.9,173.9 L180.9,173.9 L182.9,173.9 L184.9,173.9 L186.8,173.9 L188.8,173.9 L190.8,173.9 L192.8,173.9 L194.8,173.9 L196.8,173.9 L198.8,173.9 L200.8,173.9 L202.8,173.9 L204.8,173.9 L206.8,173.9 L208.7,173.9 L210.7,173.9 L212.7,173.9 L214.7,173.9 L216.7,173.9 L218.7,173.9 L220.7,173.9 L222.7,173.9 L224.7,173.9 L226.7,173.9 L228.7,173.9 L230.6,173.9 L232.6,173.9 L234.6,173.9 L236.6,173.9 L238.6,173.9 L240.6,173.9"/>
<path d="M45.5,262.1 L47.5,262.1 L49.5,262.0 L51.5,262.0 L53.5,262.0 L55.5,261.9 L57.4,261.8 L59.4,261.8 L61.4,261.7 L63.4,261.6 L65.4,261.6 L67.4,261.5 L69.4,261.5 L71.4,261.5 L73.4,261.5 L75.4,261.5 L77.4,261.5 L79.3,261.5 L81.3,261.5 L83.3,261.6 L85.3,261.6 L87.3,261.6 L89.3,261.7 L91.3,261.7 L93.3,261.7 L95.3,261.8 L97.3,261.8 L99.3,261.8 L101.2,261.8 L103.2,261.8 L105.2,261.8 L107.2,261.8 L109.2,261.9 L111.2,261.9 L113.2,261.9 L115.2,261.9 L117.2,262.0 L119.2,262.0 L121.2,262.0 L123.1,262.0 L125.1,262.1 L127.1,262.1 L129.1,262.1 L131.1,262.1 L133.1,262.0 L135.1,262.0 L137.1,261.9 L139.1,261.8 L141.1,261.7 L143.0,261.6 L145.0,261.5 L147.0,261.4 L149.0,261.3 L151.0,261.2 L153.0,261.2 L155.0,261.2 L157.0,261.1 L159.0,261.1 L161.0,261.2 L163.0,261.2 L164.9,261.2 L166.9,261.2 L168.9,261.3 L170.9,261.3 L172.9,261.3 L174.9,261.4 L176.9,261.4 L178.9,261.4 L180.9,261.5 L182.9,261.5 L184.9,261.5 L186.8,261.5 L188.8,261.5 L190.8,261.5 L192.8,261.5 L194.8,261.5 L196.8,261.5 L198.8,261.5 L200.8,261.5 L202.8,261.5 L204.8,261.5 L206.8,261.5 L208.7,261.5 L210.7,261.5 L212.7,261.5 L214.7,261.5 L216.7,261.5 L218.7,261.5 L220.7,261.5 L222.7,261.5 L224.7,261.5 L226.7,261.5 L228.7,261.5 L230.6,261.5 L232.6,261.5 L234.6,261.5 L236.6,261.5 L238.6,261.5 L240.6,261.5"/>
<path d="M45.5,261.1 L47.5,261.1 L49.5,261.1 L51.5,261.1 L53.5,261.0 L55.5,261.0 L57.4,260.9 L59.4,260.8 L61.4,260.7 L63.4,260.7 L65.4,260.6 L67.4,260.5 L69.4,260.5 L71.4,260.5 L73.4,260.5 L75.4,260.5 L77.4,260.5 L79.3,260.4 L81.3,260.4 L83.3,260.4 L85.3,260.3 L87.3,260.3 L89.3,260.3 L91.3,260.2 L93.3,260.2 L95.3,260.2 L97.3,260.2 L99.3,260.1 L101.2,260.1 L103.2,260.1 L105.2,260.2 L107.2,260.2 L109.2,260.2 L111.2,260.2 L113.2,260.3 L115.2,260.3 L117.2,260.3 L119.2,260.4 L121.2,260.4 L123.1,260.4 L125.1,260.5 L127.1,260.5 L129.1,260.5 L131.1,260.5 L133.1,260.4 L135.1,260.4 L137.1,260.3 L139.1,260.3 L141.1,260.2 L143.0,260.1 L145.0,260.1 L147.0,260.0 L149.0,259.9 L151.0,259.9 L153.0,259.8 L155.0,259.8 L157.0,259.8 L159.0,259.8 L161.0,259.8 L163.0,259.8 L164.9,259.9 L166.9,259.9 L168.9,259.9 L170.9,260.0 L172.9,260.0 L174.9,260.0 L176.9,260.1 L178.9,260.1 L180.9,260.1 L182.9,260.1 L184.9,260.1 L186.8,260.1 L188.8,260.2 L190.8,260.2 L192.8,260.2 L194.8,260.2 L196.8,260.3 L198.8,260.3 L200.8,260.3 L202.8,260.4 L204.8,260.4 L206.8,260.4 L208.7,260.5 L210.7,260.5 L212.7,260.5 L214.7,260.5 L216.7,260.5 L218.7,260.4 L220.7,260.4 L222.7,260.4 L224.7,260.3 L226.7,260.3 L228.7,260.3 L230.6,260.2 L232.6,260.2 L234.6,260.2 L236.6,260.2 L238.6,260.1 L240.6,260.1"/>
<path d="M45.5,374.4 L47.5,374.2 L49.5,373.9 L51.5,373.7 L53.5,373.5 L55.5,373.3 L57.4,373.1 L59.4,372.9 L61.4,372.8 L63.4,372.6 L65.4,372.5 L67.4,372.4 L69.4,372.4 L71.4,372.3 L73.4,372.3 L75.4,372.3 L77.4,372.3 L79.3,372.2 L81.3,372.1 L83.3,372.0 L85.3,371.8 L87.3,371.7 L89.3,371.6 L91.3,371.4 L93.3,371.3 L95.3,371.2 L97.3,371.2 L99.3,371.1 L101.2,371.1 L103.2,371.1 L105.2,371.2 L107.2,371.3 L109.2,371.4 L111.2,371.6 L113.2,371.8 L115.2,372.1 L117.2,372.3 L119.2,372.6 L121.2,373.0 L123.1,373.3 L125.1,373.7 L127.1,374.0 L129.1,374.4 L131.1,374.0 L133.1,373.6 L135.1,373.2 L137.1,372.8 L139.1,372.5 L141.1,372.2 L143.0,371.9 L145.0,371.6 L147.0,371.4 L149.0,371.2 L151.0,371.0 L153.0,370.9 L155.0,370.8 L157.0,370.8 L159.0,370.8 L161.0,370.9 L163.0,371.0 L164.9,371.1 L166.9,371.2 L168.9,371.4 L170.9,371.6 L172.9,371.7 L174.9,371.9 L176.9,372.0 L178.9,372.1 L180.9,372.2 L182.9,372.3 L184.9,372.3 L186.8,372.3 L188.8,372.3 L190.8,372.2 L192.8,372.1 L194.8,372.0 L196.8,371.8 L198.8,371.7 L200.8,371.6 L202.8,371.4 L204.8,371.3 L206.8,371.2 L208.7,371.2 L210.7,371.1 L212.7,371.1 L214.7,371.1 L216.7,371.1 L218.7,371.1 L220.7,371.1 L222.7,371.0 L224.7,371.0 L226.7,371.0 L228.7,370.9 L230.6,370.9 L232.6,370.9 L234.6,370.9 L236.6,370.8 L238.6,370.8 L240.6,370.8" stroke-width="1.0"/>
<path d="M45.5,374.4 L47.5,374.0 L49.5,373.6 L51.5,373.2 L53.5,372.8 L55.5,372.4 L57.4,372.1 L59.4,371.8 L61.4,371.5 L63.4,371.2 L65.4,371.0 L67.4,370.9 L69.4,370.8 L71.4,370.7 L73.4,370.7 L75.4,370.7 L77.4,370.6 L79.3,370.5 L81.3,370.3 L83.3,370.1 L85.3,369.9 L87.3,369.7 L89.3,369.5 L91.3,369.2 L93.3,369.1 L95.3,368.9 L97.3,368.8 L99.3,368.7 L101.2,368.7 L103.2,368.7 L105.2,368.8 L107.2,369.0 L109.2,369.2 L111.2,369.6 L113.2,369.9 L115.2,370.4 L117.2,370.8 L119.2,371.4 L121.2,371.9 L123.1,372.5 L125.1,373.1 L127.1,373.8 L129.1,374.4 L131.1,373.8 L133.1,373.2 L135.1,372.6 L137.1,372.0 L139.1,371.5 L141.1,371.0 L143.0,370.6 L145.0,370.1 L147.0,369.8 L149.0,369.5 L151.0,369.3 L153.0,369.1 L155.0,369.0 L157.0,369.0 L159.0,369.0 L161.0,369.0 L163.0,369.1 L164.9,369.3 L166.9,369.4 L168.9,369.6 L170.9,369.8 L172.9,370.0 L174.9,370.2 L176.9,370.4 L178.9,370.5 L180.9,370.6 L182.9,370.7 L184.9,370.7 L186.8,370.7 L188.8,370.6 L190.8,370.5 L192.8,370.3 L194.8,370.1 L196.8,369.9 L198.8,369.7 L200.8,369.5 L202.8,369.2 L204.8,369.1 L206.8,368.9 L208.7,368.8 L210.7,368.7 L212.7,368.7 L214.7,368.7 L216.7,368.7 L218.7,368.7 L220.7,368.7 L222.7,368.8 L224.7,368.8 L226.7,368.8 L228.7,368.8 L230.6,368.9 L232.6,368.9 L234.6,368.9 L236.6,368.9 L238.6,369.0 L240.6,369.0" stroke-width="1.0"/>
<path d="M45.5,374.4 L47.5,373.6 L49.5,372.9 L51.5,372.2 L53.5,371.5 L55.5,370.8 L57.4,370.2 L59.4,369.6 L61.4,369.1 L63.4,368.7 L65.4,368.3 L67.4,368.1 L69.4,367.8 L71.4,367.7 L73.4,367.7 L75.4,367.7 L77.4,367.6 L79.3,367.6 L81.3,367.6 L83.3,367.5 L85.3,367.5 L87.3,367.4 L89.3,367.3 L91.3,367.3 L93.3,367.2 L95.3,367.2 L97.3,367.1 L99.3,367.1 L101.2,367.1 L103.2,367.1 L105.2,367.3 L107.2,367.5 L109.2,367.8 L111.2,368.2 L113.2,368.7 L115.2,369.2 L117.2,369.8 L119.2,370.5 L121.2,371.2 L123.1,372.0 L125.1,372.8 L127.1,373.6 L129.1,374.4 L131.1,373.4 L133.1,372.3 L135.1,371.3 L137.1,370.4 L139.1,369.5 L141.1,368.6 L143.0,367.8 L145.0,367.1 L147.0,366.5 L149.0,366.0 L151.0,365.6 L153.0,365.3 L155.0,365.2 L157.0,365.1 L159.0,365.1 L161.0,365.2 L163.0,365.3 L164.9,365.5 L166.9,365.7 L168.9,366.0 L170.9,366.2 L172.9,366.5 L174.9,366.7 L176.9,367.0 L178.9,367.1 L180.9,367.3 L182.9,367.4 L184.9,367.4 L186.8,367.4 L188.8,367.4 L190.8,367.4 L192.8,367.3 L194.8,367.3 L196.8,367.3 L198.8,367.2 L200.8,367.2 L202.8,367.2 L204.8,367.2 L206.8,367.1 L208.7,367.1 L210.7,367.1 L212.7,367.1 L214.7,367.1 L216.7,367.0 L218.7,366.9 L220.7,366.7 L222.7,366.5 L224.7,366.3 L226.7,366.1 L228.7,365.9 L230.6,365.7 L232.6,365.5 L234.6,365.3 L236.6,365.2 L238.6,365.1 L240.6,365.1" stroke-width="1.0"/>
<path d="M45.5,370.4 L47.5,370.4 L49.5,370.4 L51.5,370.3 L53.5,370.2 L55.5,370.2 L57.4,370.1 L59.4,370.0 L61.4,369.9 L63.4,369.8 L65.4,369.7 L67.4,369.7 L69.4,369.6 L71.4,369.6 L73.4,369.6 L75.4,369.6 L77.4,369.5 L79.3,369.5 L81.3,369.4 L83.3,369.3 L85.3,369.2 L87.3,369.1 L89.3,369.0 L91.3,368.9 L93.3,368.8 L95.3,368.8 L97.3,368.7 L99.3,368.7 L101.2,368.7 L103.2,368.7 L105.2,368.8 L107.2,368.8 L109.2,369.0 L111.2,369.1 L113.2,369.3 L115.2,369.5 L117.2,369.6 L119.2,369.8 L121.2,370.0 L123.1,370.1 L125.1,370.2 L127.1,370.2 L129.1,370.2 L131.1,370.3 L133.1,370.3 L135.1,370.3 L137.1,370.4 L139.1,370.4 L141.1,370.5 L143.0,370.5 L145.0,370.6 L147.0,370.7 L149.0,370.7 L151.0,370.8 L153.0,370.8 L155.0,370.8 L157.0,370.8 L159.0,370.8 L161.0,370.7 L163.0,370.6 L164.9,370.5 L166.9,370.4 L168.9,370.2 L170.9,370.0 L172.9,369.8 L174.9,369.6 L176.9,369.5 L178.9,369.4 L180.9,369.3 L182.9,369.2 L184.9,369.2 L186.8,369.2 L188.8,369.2 L190.8,369.1 L192.8,369.1 L194.8,369.0 L196.8,369.0 L198.8,368.9 L200.8,368.9 L202.8,368.8 L204.8,368.8 L206.8,368.7 L208.7,368.7 L210.7,368.7 L212.7,368.7 L214.7,368.7 L216.7,368.8 L218.7,368.9 L220.7,369.1 L222.7,369.3 L224.7,369.5 L226.7,369.7 L228.7,370.0 L230.6,370.2 L232.6,370.4 L234.6,370.6 L236.6,370.7 L238.6,370.8 L240.6,370.8" stroke-width="1.0"/>
<path d="M45.5,370.4 L47.5,370.4 L49.5,370.4 L51.5,370.4 L53.5,370.4 L55.5,370.5 L57.4,370.5 L59.4,370.5 L61.4,370.6 L63.4,370.6 L65.4,370.6 L67.4,370.6 L69.4,370.7 L71.4,370.7 L73.4,370.7 L75.4,370.6 L77.4,370.5 L79.3,370.3 L81.3,370.0 L83.3,369.7 L85.3,369.3 L87.3,369.0 L89.3,368.6 L91.3,368.2 L93.3,367.9 L95.3,367.6 L97.3,367.4 L99.3,367.3 L101.2,367.2 L103.2,367.3 L105.2,367.4 L107.2,367.6 L109.2,367.8 L111.2,368.1 L113.2,368.4 L115.2,368.7 L117.2,369.1 L119.2,369.4 L121.2,369.7 L123.1,369.9 L125.1,370.1 L127.1,370.2 L129.1,370.2 L131.1,370.2 L133.1,370.1 L135.1,370.0 L137.1,369.8 L139.1,369.6 L141.1,369.3 L143.0,369.0 L145.0,368.8 L147.0,368.5 L149.0,368.3 L151.0,368.1 L153.0,367.9 L155.0,367.8 L157.0,367.8 L159.0,367.8 L161.0,367.8 L163.0,367.8 L164.9,367.9 L166.9,367.9 L168.9,367.9 L170.9,368.0 L172.9,368.0 L174.9,368.0 L176.9,368.0 L178.9,368.1 L180.9,368.1 L182.9,368.1 L184.9,368.1 L186.8,368.1 L188.8,368.1 L190.8,368.1 L192.8,368.0 L194.8,368.0 L196.8,368.0 L198.8,368.0 L200.8,367.9 L202.8,367.9 L204.8,367.9 L206.8,367.8 L208.7,367.8 L210.7,367.8 L212.7,367.8 L214.7,367.8 L216.7,367.8 L218.7,367.8 L220.7,367.8 L222.7,367.8 L224.7,367.8 L226.7,367.8 L228.7,367.8 L230.6,367.8 L232.6,367.8 L234.6,367.8 L236.6,367.8 L238.6,367.8 L240.6,367.8" stroke-width="1.0"/>
<path d="M45.5,365.8 L47.5,365.8 L49.5,365.8 L51.5,365.9 L53.5,366.0 L55.5,366.0 L57.4,366.1 L59.4,366.2 L61.4,366.3 L63.4,366.4 L65.4,366.4 L67.4,366.5 L69.4,366.5 L71.4,366.6 L73.4,366.6 L75.4,366.6 L77.4,366.6 L79.3,366.6 L81.3,366.6 L83.3,366.7 L85.3,366.7 L87.3,366.7 L89.3,366.8 L91.3,366.8 L93.3,366.8 L95.3,366.9 L97.3,366.9 L99.3,366.9 L101.2,366.9 L103.2,366.9 L105.2,366.8 L107.2,366.8 L109.2,366.7 L111.2,366.6 L113.2,366.5 L115.2,366.3 L117.2,366.2 L119.2,366.1 L121.2,366.0 L123.1,365.9 L125.1,365.9 L127.1,365.8 L129.1,365.8 L131.1,365.8 L133.1,365.9 L135.1,366.0 L137.1,366.2 L139.1,366.4 L141.1,366.6 L143.0,366.8 L145.0,367.0 L147.0,367.2 L149.0,367.4 L151.0,367.6 L153.0,367.7 L155.0,367.8 L157.0,367.8 L159.0,367.8 L161.0,367.7 L163.0,367.7 L164.9,367.6 L166.9,367.4 L168.9,367.3 L170.9,367.1 L172.9,367.0 L174.9,366.8 L176.9,366.7 L178.9,366.6 L180.9,366.5 L182.9,366.5 L184.9,366.5 L186.8,366.5 L188.8,366.5 L190.8,366.5 L192.8,366.5 L194.8,366.6 L196.8,366.6 L198.8,366.7 L200.8,366.7 L202.8,366.8 L204.8,366.8 L206.8,366.8 L208.7,366.9 L210.7,366.9 L212.7,366.9 L214.7,366.9 L216.7,366.9 L218.7,367.0 L220.7,367.1 L222.7,367.1 L224.7,367.2 L226.7,367.4 L228.7,367.5 L230.6,367.6 L232.6,367.6 L234.6,367.7 L236.6,367.8 L238.6,367.8 L240.6,367.8" stroke-width="1.0"/>
<path d="M45.5,365.8 L47.5,365.8 L49.5,365.8 L51.5,365.8 L53.5,365.7 L55.5,365.7 L57.4,365.6 L59.4,365.6 L61.4,365.5 L63.4,365.5 L65.4,365.5 L67.4,365.4 L69.4,365.4 L71.4,365.4 L73.4,365.4 L75.4,365.4 L77.4,365.4 L79.3,365.4 L81.3,365.5 L83.3,365.5 L85.3,365.5 L87.3,365.6 L89.3,365.6 L91.3,365.7 L93.3,365.7 L95.3,365.8 L97.3,365.8 L99.3,365.8 L101.2,365.8 L103.2,365.8 L105.2,365.8 L107.2,365.8 L109.2,365.8 L111.2,365.8 L113.2,365.8 L115.2,365.8 L117.2,365.8 L119.2,365.8 L121.2,365.8 L123.1,365.8 L125.1,365.8 L127.1,365.8 L129.1,365.8 L131.1,365.8 L133.1,365.8 L135.1,365.9 L137.1,365.9 L139.1,366.0 L141.1,366.1 L143.0,366.1 L145.0,366.2 L147.0,366.3 L149.0,366.3 L151.0,366.4 L153.0,366.4 L155.0,366.4 L157.0,366.5 L159.0,366.4 L161.0,366.4 L163.0,366.4 L164.9,366.3 L166.9,366.2 L168.9,366.2 L170.9,366.1 L172.9,366.0 L174.9,365.9 L176.9,365.8 L178.9,365.8 L180.9,365.7 L182.9,365.7 L184.9,365.7 L186.8,365.7 L188.8,365.7 L190.8,365.7 L192.8,365.7 L194.8,365.7 L196.8,365.7 L198.8,365.7 L200.8,365.8 L202.8,365.8 L204.8,365.8 L206.8,365.8 L208.7,365.8 L210.7,365.8 L212.7,365.8 L214.7,365.8 L216.7,365.8 L218.7,365.9 L220.7,365.9 L222.7,366.0 L224.7,366.1 L226.7,366.1 L228.7,366.2 L230.6,366.3 L232.6,366.3 L234.6,366.4 L236.6,366.4 L238.6,366.4 L240.6,366.5" stroke-width="1.0"/>
<path d="M45.5,363.4 L47.5,363.4 L49.5,363.4 L51.5,363.5 L53.5,363.6 L55.5,363.7 L57.4,363.8 L59.4,363.9 L61.4,364.0 L63.4,364.1 L65.4,364.2 L67.4,364.3 L69.4,364.3 L71.4,364.4 L73.4,364.4 L75.4,364.4 L77.4,364.5 L79.3,364.5 L81.3,364.7 L83.3,364.8 L85.3,364.9 L87.3,365.1 L89.3,365.3 L91.3,365.4 L93.3,365.5 L95.3,365.7 L97.3,365.7 L99.3,365.8 L101.2,365.8 L103.2,365.8 L105.2,365.7 L107.2,365.6 L109.2,365.4 L111.2,365.1 L113.2,364.9 L115.2,364.6 L117.2,364.4 L119.2,364.1 L121.2,363.9 L123.1,363.7 L125.1,363.6 L127.1,363.5 L129.1,363.5 L131.1,363.5 L133.1,363.5 L135.1,363.6 L137.1,363.8 L139.1,363.9 L141.1,364.1 L143.0,364.3 L145.0,364.5 L147.0,364.6 L149.0,364.8 L151.0,364.9 L153.0,365.0 L155.0,365.1 L157.0,365.1 L159.0,365.1 L161.0,365.1 L163.0,365.0 L164.9,365.0 L166.9,365.0 L168.9,364.9 L170.9,364.9 L172.9,364.8 L174.9,364.8 L176.9,364.7 L178.9,364.7 L180.9,364.7 L182.9,364.7 L184.9,364.7 L186.8,364.7 L188.8,364.7 L190.8,364.7 L192.8,364.7 L194.8,364.7 L196.8,364.8 L198.8,364.8 L200.8,364.8 L202.8,364.9 L204.8,364.9 L206.8,364.9 L208.7,364.9 L210.7,364.9 L212.7,365.0 L214.7,365.0 L216.7,365.0 L218.7,365.0 L220.7,365.0 L222.7,365.0 L224.7,365.0 L226.7,365.0 L228.7,365.0 L230.6,365.1 L232.6,365.1 L234.6,365.1 L236.6,365.1 L238.6,365.1 L240.6,365.1" stroke-width="1.0"/>
<path d="M45.5,363.6 L47.5,363.6 L49.5,363.6 L51.5,363.5 L53.5,363.5 L55.5,363.5 L57.4,363.5 L59.4,363.4 L61.4,363.4 L63.4,363.4 L65.4,363.4 L67.4,363.3 L69.4,363.3 L71.4,363.3 L73.4,363.3 L75.4,363.3 L77.4,363.4 L79.3,363.5 L81.3,363.6 L83.3,363.8 L85.3,363.9 L87.3,364.1 L89.3,364.3 L91.3,364.5 L93.3,364.6 L95.3,364.8 L97.3,364.9 L99.3,364.9 L101.2,365.0 L103.2,364.9 L105.2,364.9 L107.2,364.8 L109.2,364.7 L111.2,364.5 L113.2,364.4 L115.2,364.2 L117.2,364.0 L119.2,363.9 L121.2,363.7 L123.1,363.6 L125.1,363.5 L127.1,363.5 L129.1,363.5 L131.1,363.5 L133.1,363.5 L135.1,363.6 L137.1,363.7 L139.1,363.9 L141.1,364.0 L143.0,364.2 L145.0,364.4 L147.0,364.5 L149.0,364.7 L151.0,364.8 L153.0,364.9 L155.0,364.9 L157.0,365.0 L159.0,364.9 L161.0,364.9 L163.0,364.8 L164.9,364.7 L166.9,364.6 L168.9,364.4 L170.9,364.3 L172.9,364.1 L174.9,364.0 L176.9,363.8 L178.9,363.7 L180.9,363.7 L182.9,363.6 L184.9,363.6 L186.8,363.6 L188.8,363.6 L190.8,363.6 L192.8,363.6 L194.8,363.7 L196.8,363.7 L198.8,363.7 L200.8,363.8 L202.8,363.8 L204.8,363.8 L206.8,363.8 L208.7,363.9 L210.7,363.9 L212.7,363.9 L214.7,363.9 L216.7,363.9 L218.7,364.0 L220.7,364.1 L222.7,364.2 L224.7,364.3 L226.7,364.4 L228.7,364.5 L230.6,364.6 L232.6,364.8 L234.6,364.8 L236.6,364.9 L238.6,364.9 L240.6,365.0" stroke-width="1.0"/>
<path d="M45.5,362.7 L47.5,362.7 L49.5,362.7 L51.5,362.7 L53.5,362.7 L55.5,362.7 L57.4,362.7 L59.4,362.7 L61.4,362.7 L63.4,362.7 L65.4,362.7 L67.4,362.7 L69.4,362.7 L71.4,362.7 L73.4,362.7 L75.4,362.7 L77.4,362.7 L79.3,362.8 L81.3,362.9 L83.3,363.0 L85.3,363.1 L87.3,363.3 L89.3,363.4 L91.3,363.5 L93.3,363.7 L95.3,363.7 L97.3,363.8 L99.3,363.9 L101.2,363.9 L103.2,363.9 L105.2,363.8 L107.2,363.7 L109.2,363.7 L111.2,363.5 L113.2,363.4 L115.2,363.3 L117.2,363.1 L119.2,363.0 L121.2,362.9 L123.1,362.8 L125.1,362.7 L127.1,362.7 L129.1,362.7 L131.1,362.7 L133.1,362.6 L135.1,362.6 L137.1,362.6 L139.1,362.6 L141.1,362.6 L143.0,362.5 L145.0,362.5 L147.0,362.5 L149.0,362.4 L151.0,362.4 L153.0,362.4 L155.0,362.4 L157.0,362.4 L159.0,362.4 L161.0,362.4 L163.0,362.3 L164.9,362.3 L166.9,362.3 L168.9,362.2 L170.9,362.2 L172.9,362.1 L174.9,362.1 L176.9,362.0 L178.9,362.0 L180.9,362.0 L182.9,362.0 L184.9,361.9 L186.8,361.9 L188.8,361.9 L190.8,361.9 L192.8,361.9 L194.8,361.9 L196.8,361.9 L198.8,361.9 L200.8,361.9 L202.8,361.9 L204.8,361.9 L206.8,361.9 L208.7,361.9 L210.7,361.9 L212.7,361.9 L214.7,362.0 L216.7,362.0 L218.7,362.0 L220.7,362.0 L222.7,362.1 L224.7,362.1 L226.7,362.2 L228.7,362.2 L230.6,362.3 L232.6,362.3 L234.6,362.3 L236.6,362.4 L238.6,362.4 L240.6,362.4" stroke-width="1.0"/>
<path d="M45.5,362.1 L47.5,362.1 L49.5,362.1 L51.5,362.1 L53.5,362.1 L55.5,362.1 L57.4,362.0 L59.4,362.0 L61.4,362.0 L63.4,362.0 L65.4,362.0 L67.4,362.0 L69.4,362.0 L71.4,361.9 L73.4,361.9 L75.4,361.9 L77.4,361.9 L79.3,361.9 L81.3,361.9 L83.3,361.9 L85.3,361.9 L87.3,361.9 L89.3,361.9 L91.3,361.9 L93.3,361.9 L95.3,361.9 L97.3,361.9 L99.3,361.9 L101.2,361.9 L103.2,362.0 L105.2,362.0 L107.2,362.0 L109.2,362.1 L111.2,362.2 L113.2,362.2 L115.2,362.3 L117.2,362.4 L119.2,362.5 L121.2,362.5 L123.1,362.6 L125.1,362.6 L127.1,362.7 L129.1,362.7 L131.1,362.7 L133.1,362.6 L135.1,362.6 L137.1,362.6 L139.1,362.6 L141.1,362.6 L143.0,362.5 L145.0,362.5 L147.0,362.5 L149.0,362.4 L151.0,362.4 L153.0,362.4 L155.0,362.4 L157.0,362.4 L159.0,362.4 L161.0,362.4 L163.0,362.3 L164.9,362.3 L166.9,362.3 L168.9,362.2 L170.9,362.2 L172.9,362.1 L174.9,362.1 L176.9,362.0 L178.9,362.0 L180.9,362.0 L182.9,362.0 L184.9,361.9 L186.8,361.9 L188.8,361.9 L190.8,361.9 L192.8,361.9 L194.8,361.9 L196.8,361.9 L198.8,361.9 L200.8,361.9 L202.8,361.9 L204.8,361.9 L206.8,361.9 L208.7,361.9 L210.7,361.9 L212.7,361.9 L214.7,362.0 L216.7,362.0 L218.7,362.0 L220.7,362.0 L222.7,362.1 L224.7,362.1 L226.7,362.2 L228.7,362.2 L230.6,362.3 L232.6,362.3 L234.6,362.3 L236.6,362.4 L238.6,362.4 L240.6,362.4" stroke-width="1.0"/>
<path d="M45.5,362.2 L47.5,362.2 L49.5,362.1 L51.5,362.1 L53.5,362.0 L55.5,362.0 L57.4,361.9 L59.4,361.8 L61.4,361.7 L63.4,361.6 L65.4,361.6 L67.4,361.5 L69.4,361.5 L71.4,361.5 L73.4,361.4 L75.4,361.4 L77.4,361.4 L79.3,361.4 L81.3,361.4 L83.3,361.3 L85.3,361.3 L87.3,361.2 L89.3,361.2 L91.3,361.1 L93.3,361.1 L95.3,361.1 L97.3,361.0 L99.3,361.0 L101.2,361.0 L103.2,361.0 L105.2,361.0 L107.2,361.1 L109.2,361.1 L111.2,361.2 L113.2,361.2 L115.2,361.3 L117.2,361.3 L119.2,361.4 L121.2,361.4 L123.1,361.5 L125.1,361.5 L127.1,361.5 L129.1,361.5 L131.1,361.5 L133.1,361.5 L135.1,361.5 L137.1,361.4 L139.1,361.4 L141.1,361.3 L143.0,361.3 L145.0,361.2 L147.0,361.2 L149.0,361.1 L151.0,361.1 L153.0,361.0 L155.0,361.0 L157.0,361.0 L159.0,361.0 L161.0,361.0 L163.0,361.0 L164.9,361.0 L166.9,361.1 L168.9,361.1 L170.9,361.1 L172.9,361.1 L174.9,361.1 L176.9,361.1 L178.9,361.1 L180.9,361.2 L182.9,361.2 L184.9,361.2 L186.8,361.2 L188.8,361.2 L190.8,361.1 L192.8,361.1 L194.8,361.1 L196.8,361.1 L198.8,361.1 L200.8,361.1 L202.8,361.1 L204.8,361.0 L206.8,361.0 L208.7,361.0 L210.7,361.0 L212.7,361.0 L214.7,361.0 L216.7,361.0 L218.7,361.0 L220.7,361.0 L222.7,361.0 L224.7,361.0 L226.7,361.0 L228.7,361.0 L230.6,361.0 L232.6,361.0 L234.6,361.0 L236.6,361.0 L238.6,361.0 L240.6,361.0" stroke-width="1.0"/>
<path d="M45.5,362.2 L47.5,362.2 L49.5,362.2 L51.5,362.1 L53.5,362.0 L55.5,361.9 L57.4,361.8 L59.4,361.7 L61.4,361.6 L63.4,361.5 L65.4,361.4 L67.4,361.3 L69.4,361.2 L71.4,361.2 L73.4,361.2 L75.4,361.2 L77.4,361.2 L79.3,361.1 L81.3,361.1 L83.3,361.1 L85.3,361.1 L87.3,361.1 L89.3,361.1 L91.3,361.1 L93.3,361.0 L95.3,361.0 L97.3,361.0 L99.3,361.0 L101.2,361.0 L103.2,361.0 L105.2,361.0 L107.2,361.1 L109.2,361.1 L111.2,361.2 L113.2,361.2 L115.2,361.3 L117.2,361.3 L119.2,361.4 L121.2,361.4 L123.1,361.5 L125.1,361.5 L127.1,361.5 L129.1,361.5 L131.1,361.5 L133.1,361.5 L135.1,361.5 L137.1,361.4 L139.1,361.4 L141.1,361.4 L143.0,361.3 L145.0,361.3 L147.0,361.2 L149.0,361.2 L151.0,361.1 L153.0,361.1 L155.0,361.1 L157.0,361.1 L159.0,361.1 L161.0,361.1 L163.0,361.1 L164.9,361.1 L166.9,361.1 L168.9,361.1 L170.9,361.1 L172.9,361.1 L174.9,361.1 L176.9,361.1 L178.9,361.2 L180.9,361.2 L182.9,361.2 L184.9,361.2 L186.8,361.2 L188.8,361.2 L190.8,361.1 L192.8,361.1 L194.8,361.1 L196.8,361.1 L198.8,361.1 L200.8,361.1 L202.8,361.1 L204.8,361.0 L206.8,361.0 L208.7,361.0 L210.7,361.0 L212.7,361.0 L214.7,361.0 L216.7,361.0 L218.7,361.0 L220.7,361.0 L222.7,361.0 L224.7,361.0 L226.7,361.1 L228.7,361.1 L230.6,361.1 L232.6,361.1 L234.6,361.1 L236.6,361.1 L238.6,361.1 L240.6,361.1" stroke-width="1.0"/>
<path d="M45.5,362.9 L47.5,362.9 L49.5,362.9 L51.5,362.9 L53.5,362.9 L55.5,362.9 L57.4,362.9 L59.4,362.9 L61.4,362.9 L63.4,362.9 L65.4,362.9 L67.4,362.9 L69.4,362.9 L71.4,362.9 L73.4,362.9 L75.4,362.9 L77.4,362.9 L79.3,362.9 L81.3,362.9 L83.3,362.9 L85.3,362.8 L87.3,362.8 L89.3,362.8 L91.3,362.7 L93.3,362.7 L95.3,362.7 L97.3,362.7 L99.3,362.7 L101.2,362.7 L103.2,362.7 L105.2,362.7 L107.2,362.7 L109.2,362.7 L111.2,362.7 L113.2,362.7 L115.2,362.7 L117.2,362.7 L119.2,362.7 L121.2,362.7 L123.1,362.7 L125.1,362.7 L127.1,362.7 L129.1,362.7 L131.1,362.7 L133.1,362.6 L135.1,362.6 L137.1,362.6 L139.1,362.5 L141.1,362.4 L143.0,362.4 L145.0,362.3 L147.0,362.3 L149.0,362.2 L151.0,362.2 L153.0,362.1 L155.0,362.1 L157.0,362.1 L159.0,362.1 L161.0,362.1 L163.0,362.2 L164.9,362.3 L166.9,362.3 L168.9,362.4 L170.9,362.5 L172.9,362.6 L174.9,362.7 L176.9,362.8 L178.9,362.9 L180.9,362.9 L182.9,362.9 L184.9,362.9 L186.8,362.9 L188.8,362.9 L190.8,362.9 L192.8,362.9 L194.8,362.9 L196.8,362.8 L198.8,362.8 L200.8,362.8 L202.8,362.7 L204.8,362.7 L206.8,362.7 L208.7,362.7 L210.7,362.7 L212.7,362.7 L214.7,362.7 L216.7,362.6 L218.7,362.6 L220.7,362.6 L222.7,362.5 L224.7,362.4 L226.7,362.4 L228.7,362.3 L230.6,362.3 L232.6,362.2 L234.6,362.2 L236.6,362.1 L238.6,362.1 L240.6,362.1" stroke-width="1.0"/>
<path d="M45.5,362.4 L47.5,362.4 L49.5,362.3 L51.5,362.3 L53.5,362.2 L55.5,362.2 L57.4,362.1 L59.4,362.0 L61.4,361.9 L63.4,361.9 L65.4,361.8 L67.4,361.7 L69.4,361.7 L71.4,361.7 L73.4,361.7 L75.4,361.7 L77.4,361.7 L79.3,361.6 L81.3,361.6 L83.3,361.6 L85.3,361.6 L87.3,361.6 L89.3,361.6 L91.3,361.6 L93.3,361.5 L95.3,361.5 L97.3,361.5 L99.3,361.5 L101.2,361.5 L103.2,361.5 L105.2,361.5 L107.2,361.6 L109.2,361.6 L111.2,361.6 L113.2,361.7 L115.2,361.7 L117.2,361.8 L119.2,361.8 L121.2,361.9 L123.1,361.9 L125.1,361.9 L127.1,361.9 L129.1,361.9 L131.1,361.9 L133.1,361.9 L135.1,361.9 L137.1,361.9 L139.1,361.9 L141.1,361.8 L143.0,361.8 L145.0,361.8 L147.0,361.7 L149.0,361.7 L151.0,361.7 L153.0,361.7 L155.0,361.7 L157.0,361.7 L159.0,361.7 L161.0,361.7 L163.0,361.7 L164.9,361.7 L166.9,361.7 L168.9,361.7 L170.9,361.7 L172.9,361.7 L174.9,361.7 L176.9,361.7 L178.9,361.7 L180.9,361.7 L182.9,361.7 L184.9,361.7 L186.8,361.7 L188.8,361.7 L190.8,361.6 L192.8,361.6 L194.8,361.6 L196.8,361.6 L198.8,361.6 L200.8,361.6 L202.8,361.6 L204.8,361.5 L206.8,361.5 L208.7,361.5 L210.7,361.5 L212.7,361.5 L214.7,361.5 L216.7,361.5 L218.7,361.5 L220.7,361.5 L222.7,361.6 L224.7,361.6 L226.7,361.6 L228.7,361.6 L230.6,361.6 L232.6,361.6 L234.6,361.6 L236.6,361.7 L238.6,361.7 L240.6,361.7" stroke-width="1.0"/>
<path d="M45.5,363.2 L47.5,363.2 L49.5,363.2 L51.5,363.1 L53.5,363.1 L55.5,363.0 L57.4,362.9 L59.4,362.8 L61.4,362.7 L63.4,362.6 L65.4,362.5 L67.4,362.5 L69.4,362.4 L71.4,362.4 L73.4,362.4 L75.4,362.4 L77.4,362.4 L79.3,362.5 L81.3,362.5 L83.3,362.6 L85.3,362.7 L87.3,362.8 L89.3,362.9 L91.3,363.0 L93.3,363.1 L95.3,363.1 L97.3,363.2 L99.3,363.2 L101.2,363.2 L103.2,363.2 L105.2,363.2 L107.2,363.2 L109.2,363.2 L111.2,363.2 L113.2,363.2 L115.2,363.2 L117.2,363.2 L119.2,363.2 L121.2,363.2 L123.1,363.2 L125.1,363.2 L127.1,363.2 L129.1,363.2 L131.1,363.2 L133.1,363.3 L135.1,363.3 L137.1,363.3 L139.1,363.4 L141.1,363.5 L143.0,363.5 L145.0,363.6 L147.0,363.6 L149.0,363.7 L151.0,363.7 L153.0,363.8 L155.0,363.8 L157.0,363.8 L159.0,363.8 L161.0,363.8 L163.0,363.7 L164.9,363.7 L166.9,363.6 L168.9,363.6 L170.9,363.5 L172.9,363.5 L174.9,363.4 L176.9,363.3 L178.9,363.3 L180.9,363.3 L182.9,363.2 L184.9,363.2 L186.8,363.2 L188.8,363.2 L190.8,363.2 L192.8,363.2 L194.8,363.2 L196.8,363.1 L198.8,363.1 L200.8,363.1 L202.8,363.0 L204.8,363.0 L206.8,363.0 L208.7,363.0 L210.7,363.0 L212.7,362.9 L214.7,363.0 L216.7,363.0 L218.7,363.0 L220.7,363.1 L222.7,363.2 L224.7,363.3 L226.7,363.4 L228.7,363.5 L230.6,363.6 L232.6,363.6 L234.6,363.7 L236.6,363.8 L238.6,363.8 L240.6,363.8" stroke-width="1.0"/>
<path d="M45.5,363.7 L47.5,363.7 L49.5,363.7 L51.5,363.7 L53.5,363.7 L55.5,363.7 L57.4,363.7 L59.4,363.7 L61.4,363.8 L63.4,363.8 L65.4,363.8 L67.4,363.8 L69.4,363.8 L71.4,363.8 L73.4,363.8 L75.4,363.8 L77.4,363.8 L79.3,363.9 L81.3,363.9 L83.3,364.0 L85.3,364.0 L87.3,364.1 L89.3,364.2 L91.3,364.2 L93.3,364.3 L95.3,364.3 L97.3,364.4 L99.3,364.4 L101.2,364.4 L103.2,364.4 L105.2,364.3 L107.2,364.3 L109.2,364.2 L111.2,364.1 L113.2,364.0 L115.2,363.9 L117.2,363.8 L119.2,363.7 L121.2,363.6 L123.1,363.6 L125.1,363.5 L127.1,363.5 L129.1,363.5 L131.1,363.5 L133.1,363.5 L135.1,363.6 L137.1,363.6 L139.1,363.7 L141.1,363.8 L143.0,363.9 L145.0,364.0 L147.0,364.1 L149.0,364.2 L151.0,364.3 L153.0,364.3 L155.0,364.4 L157.0,364.4 L159.0,364.4 L161.0,364.4 L163.0,364.3 L164.9,364.3 L166.9,364.2 L168.9,364.2 L170.9,364.1 L172.9,364.0 L174.9,364.0 L176.9,363.9 L178.9,363.9 L180.9,363.8 L182.9,363.8 L184.9,363.8 L186.8,363.8 L188.8,363.8 L190.8,363.9 L192.8,363.9 L194.8,364.0 L196.8,364.0 L198.8,364.1 L200.8,364.2 L202.8,364.2 L204.8,364.3 L206.8,364.3 L208.7,364.4 L210.7,364.4 L212.7,364.4 L214.7,364.4 L216.7,364.4 L218.7,364.4 L220.7,364.4 L222.7,364.4 L224.7,364.4 L226.7,364.4 L228.7,364.4 L230.6,364.4 L232.6,364.4 L234.6,364.4 L236.6,364.4 L238.6,364.4 L240.6,364.4" stroke-width="1.0"/>
</g>
<line x1="45.5" x2="240.6" y1="40.8" y2="40.8" stroke="#000" stroke-width="2"/>
<line x1="45.5" x2="240.6" y1="261.3" y2="261.3" stroke="#000" stroke-width="4.4"/>
<rect x="45.5" y="361.5" width="195.1" height="2.0" fill="#000"/>
<g stroke="#8c8c8c" stroke-width="1" fill="none">
<path d="M45.5,40.3 V374.4 M240.6,40.3 V374.4 M45.5,374.4 H240.6"/>
<path d="M45.5,374.4 h2.5 M240.6,374.4 h-2.5"/>
<path d="M45.5,341.0 h2.5 M240.6,341.0 h-2.5"/>
<path d="M45.5,307.6 h2.5 M240.6,307.6 h-2.5"/>
<path d="M45.5,274.2 h2.5 M240.6,274.2 h-2.5"/>
<path d="M45.5,240.8 h2.5 M240.6,240.8 h-2.5"/>
<path d="M45.5,207.3 h2.5 M240.6,207.3 h-2.5"/>
<path d="M45.5,173.9 h2.5 M240.6,173.9 h-2.5"/>
<path d="M45.5,140.5 h2.5 M240.6,140.5 h-2.5"/>
<path d="M45.5,107.1 h2.5 M240.6,107.1 h-2.5"/>
<path d="M45.5,73.7 h2.5 M240.6,73.7 h-2.5"/>
<path d="M45.5,40.3 h2.5 M240.6,40.3 h-2.5"/>
<path d="M73.4,374.4 v-2.5 M73.4,40.3 v2.5"/>
<path d="M101.2,374.4 v-2.5 M101.2,40.3 v2.5"/>
<path d="M129.1,374.4 v-2.5 M129.1,40.3 v2.5"/>
<path d="M157.0,374.4 v-2.5 M157.0,40.3 v2.5"/>
<path d="M184.9,374.4 v-2.5 M184.9,40.3 v2.5"/>
<path d="M212.7,374.4 v-2.5 M212.7,40.3 v2.5"/>
</g>
<g font-family="Liberation Serif, serif" font-size="14.5" fill="#000" text-anchor="end">
<text x="43.8" y="377.5">0</text>
<text x="43.8" y="345.9">0.1</text>
<text x="43.8" y="312.5">0.2</text>
<text x="43.8" y="279.1">0.3</text>
<text x="43.8" y="245.7">0.4</text>
<text x="43.8" y="212.2">0.5</text>
<text x="43.8" y="178.8">0.6</text>
<text x="43.8" y="145.4">0.7</text>
<text x="43.8" y="112.0">0.8</text>
<text x="43.8" y="78.6">0.9</text>
<text x="43.8" y="45.2">1.0</text>
</g>
<g font-family="Liberation Serif, serif" font-size="14.3" fill="#000" text-anchor="middle">
<text x="45.5" y="385.9">Γ</text>
<text x="73.4" y="385.9">X</text>
<text x="101.2" y="385.9">M</text>
<text x="129.1" y="385.9">Γ</text>
<text x="157.0" y="385.9">R</text>
<text x="184.9" y="385.9">X</text>
<text x="212.7" y="385.9">M</text>
<text x="240.6" y="385.9">R</text>
</g>
<text font-family="Liberation Serif, serif" font-size="18.2" x="49" y="402.4">Irreducible Brillouin Zone</text>
<text font-family="Liberation Serif, serif" font-size="34" x="126.2" y="27.5" letter-spacing="0.8">(a)</text>
<text font-family="Liberation Serif, serif" font-size="18.4" x="143.3" y="224.6" text-anchor="middle">55%</text>
<text font-family="Liberation Serif, serif" font-size="18.4" x="144" y="319.3" text-anchor="middle">157.6%</text>
<text font-family="Liberation Serif, serif" font-size="20.5" transform="translate(17.8,321) rotate(-90)">Norm. frequency <tspan font-style="italic" font-size="24">f</tspan><tspan font-style="italic" font-size="17" dy="4">nd</tspan><tspan dy="-4" font-size="24">=</tspan><tspan font-style="italic" font-size="24">fa</tspan><tspan font-size="24">/</tspan><tspan font-style="italic" font-size="24">v</tspan></text>
<rect x="297.1" y="37.5" width="354.3" height="293.3" fill="#aecce9"/>
<g clip-path="url(#cb)" fill="none" stroke="#000" stroke-width="1.6">
<path d="M297.1,371.5 L300.7,370.8 L304.3,370.1 L307.9,369.4 L311.6,368.8 L315.2,368.2 L318.8,367.6 L322.4,367.1 L326.0,366.6 L329.6,366.2 L333.3,365.8 L336.9,365.6 L340.5,365.4 L344.1,365.3 L347.7,365.2 L351.3,365.2 L354.9,365.0 L358.6,364.8 L362.2,364.5 L365.8,364.2 L369.4,363.8 L373.0,363.4 L376.6,363.0 L380.3,362.6 L383.9,362.3 L387.5,362.0 L391.1,361.8 L394.7,361.7 L398.3,361.6 L401.9,361.7 L405.6,361.9 L409.2,362.2 L412.8,362.6 L416.4,363.1 L420.0,363.8 L423.6,364.5 L427.3,365.3 L430.9,366.2 L434.5,367.2 L438.1,368.2 L441.7,369.3 L445.3,370.4 L448.9,371.5 L452.6,370.3 L456.2,369.1 L459.8,367.9 L463.4,366.8 L467.0,365.8 L470.6,364.8 L474.2,363.9 L477.9,363.1 L481.5,362.4 L485.1,361.8 L488.7,361.4 L492.3,361.0 L495.9,360.8 L499.6,360.8 L503.2,360.8 L506.8,361.0 L510.4,361.2 L514.0,361.6 L517.6,362.0 L521.2,362.5 L524.9,363.0 L528.5,363.5 L532.1,364.0 L535.7,364.4 L539.3,364.7 L542.9,365.0 L546.6,365.2 L550.2,365.2 L553.8,365.2 L557.4,365.0 L561.0,364.8 L564.6,364.5 L568.2,364.2 L571.9,363.8 L575.5,363.4 L579.1,363.0 L582.7,362.6 L586.3,362.3 L589.9,362.0 L593.6,361.8 L597.2,361.7 L600.8,361.6 L604.4,361.6 L608.0,361.6 L611.6,361.5 L615.2,361.4 L618.9,361.4 L622.5,361.3 L626.1,361.2 L629.7,361.1 L633.3,361.0 L636.9,360.9 L640.6,360.8 L644.2,360.8 L647.8,360.8 L651.4,360.8"/>
<path d="M297.1,371.5 L300.7,370.2 L304.3,369.0 L307.9,367.8 L311.6,366.6 L315.2,365.6 L318.8,364.5 L322.4,363.6 L326.0,362.8 L329.6,362.0 L333.3,361.4 L336.9,360.9 L340.5,360.6 L344.1,360.4 L347.7,360.3 L351.3,360.2 L354.9,360.0 L358.6,359.7 L362.2,359.2 L365.8,358.6 L369.4,358.0 L373.0,357.3 L376.6,356.6 L380.3,356.0 L383.9,355.4 L387.5,355.0 L391.1,354.6 L394.7,354.4 L398.3,354.3 L401.9,354.4 L405.6,354.7 L409.2,355.3 L412.8,356.0 L416.4,356.9 L420.0,358.1 L423.6,359.3 L427.3,360.8 L430.9,362.3 L434.5,364.0 L438.1,365.8 L441.7,367.7 L445.3,369.6 L448.9,371.5 L452.6,369.7 L456.2,367.9 L459.8,366.1 L463.4,364.4 L467.0,362.8 L470.6,361.3 L474.2,359.9 L477.9,358.7 L481.5,357.7 L485.1,356.8 L488.7,356.1 L492.3,355.6 L495.9,355.3 L499.6,355.2 L503.2,355.2 L506.8,355.4 L510.4,355.7 L514.0,356.1 L517.6,356.6 L521.2,357.2 L524.9,357.7 L528.5,358.3 L532.1,358.9 L535.7,359.3 L539.3,359.8 L542.9,360.1 L546.6,360.3 L550.2,360.3 L553.8,360.2 L557.4,360.0 L561.0,359.7 L564.6,359.2 L568.2,358.6 L571.9,358.0 L575.5,357.3 L579.1,356.6 L582.7,356.0 L586.3,355.4 L589.9,355.0 L593.6,354.6 L597.2,354.4 L600.8,354.3 L604.4,354.3 L608.0,354.3 L611.6,354.4 L615.2,354.5 L618.9,354.5 L622.5,354.6 L626.1,354.7 L629.7,354.8 L633.3,354.9 L636.9,355.0 L640.6,355.1 L644.2,355.1 L647.8,355.1 L651.4,355.2"/>
<path d="M297.1,371.5 L300.7,369.2 L304.3,367.0 L307.9,364.8 L311.6,362.7 L315.2,360.7 L318.8,358.9 L322.4,357.2 L326.0,355.7 L329.6,354.4 L333.3,353.3 L336.9,352.4 L340.5,351.8 L344.1,351.4 L347.7,351.3 L351.3,351.3 L354.9,351.2 L358.6,351.1 L362.2,351.0 L365.8,350.8 L369.4,350.6 L373.0,350.4 L376.6,350.2 L380.3,350.1 L383.9,349.9 L387.5,349.8 L391.1,349.7 L394.7,349.6 L398.3,349.6 L401.9,349.7 L405.6,350.1 L409.2,350.8 L412.8,351.7 L416.4,352.9 L420.0,354.4 L423.6,356.0 L427.3,357.8 L430.9,359.8 L434.5,362.0 L438.1,364.3 L441.7,366.6 L445.3,369.0 L448.9,371.5 L452.6,368.4 L456.2,365.3 L459.8,362.3 L463.4,359.4 L467.0,356.6 L470.6,354.1 L474.2,351.7 L477.9,349.6 L481.5,347.8 L485.1,346.3 L488.7,345.1 L492.3,344.3 L495.9,343.7 L499.6,343.6 L503.2,343.6 L506.8,343.9 L510.4,344.3 L514.0,344.8 L517.6,345.5 L521.2,346.2 L524.9,347.0 L528.5,347.8 L532.1,348.5 L535.7,349.1 L539.3,349.7 L542.9,350.1 L546.6,350.3 L550.2,350.4 L553.8,350.4 L557.4,350.4 L561.0,350.3 L564.6,350.3 L568.2,350.2 L571.9,350.1 L575.5,350.0 L579.1,349.9 L582.7,349.8 L586.3,349.7 L589.9,349.7 L593.6,349.6 L597.2,349.6 L600.8,349.6 L604.4,349.5 L608.0,349.3 L611.6,348.9 L615.2,348.4 L618.9,347.9 L622.5,347.2 L626.1,346.6 L629.7,345.9 L633.3,345.3 L636.9,344.7 L640.6,344.2 L644.2,343.8 L647.8,343.6 L651.4,343.6"/>
<path d="M297.1,359.5 L300.7,359.4 L304.3,359.3 L307.9,359.2 L311.6,359.0 L315.2,358.8 L318.8,358.5 L322.4,358.2 L326.0,358.0 L329.6,357.7 L333.3,357.5 L336.9,357.3 L340.5,357.1 L344.1,357.0 L347.7,357.0 L351.3,357.0 L354.9,356.9 L358.6,356.7 L362.2,356.5 L365.8,356.2 L369.4,356.0 L373.0,355.7 L376.6,355.4 L380.3,355.1 L383.9,354.8 L387.5,354.6 L391.1,354.4 L394.7,354.3 L398.3,354.3 L401.9,354.4 L405.6,354.5 L409.2,354.8 L412.8,355.2 L416.4,355.6 L420.0,356.1 L423.6,356.7 L427.3,357.2 L430.9,357.7 L434.5,358.1 L438.1,358.5 L441.7,358.8 L445.3,359.0 L448.9,359.0 L452.6,359.1 L456.2,359.1 L459.8,359.2 L463.4,359.4 L467.0,359.5 L470.6,359.7 L474.2,359.9 L477.9,360.1 L481.5,360.3 L485.1,360.4 L488.7,360.6 L492.3,360.7 L495.9,360.7 L499.6,360.8 L503.2,360.7 L506.8,360.5 L510.4,360.2 L514.0,359.8 L517.6,359.4 L521.2,358.8 L524.9,358.3 L528.5,357.7 L532.1,357.2 L535.7,356.7 L539.3,356.3 L542.9,356.0 L546.6,355.9 L550.2,355.8 L553.8,355.8 L557.4,355.7 L561.0,355.6 L564.6,355.5 L568.2,355.4 L571.9,355.2 L575.5,355.1 L579.1,354.9 L582.7,354.7 L586.3,354.6 L589.9,354.5 L593.6,354.4 L597.2,354.3 L600.8,354.3 L604.4,354.4 L608.0,354.6 L611.6,355.0 L615.2,355.5 L618.9,356.1 L622.5,356.8 L626.1,357.5 L629.7,358.2 L633.3,358.9 L636.9,359.5 L640.6,360.0 L644.2,360.4 L647.8,360.7 L651.4,360.8"/>
<path d="M297.1,359.5 L300.7,359.5 L304.3,359.5 L307.9,359.6 L311.6,359.6 L315.2,359.7 L318.8,359.8 L322.4,359.9 L326.0,360.0 L329.6,360.1 L333.3,360.2 L336.9,360.2 L340.5,360.3 L344.1,360.3 L347.7,360.3 L351.3,360.2 L354.9,359.8 L358.6,359.2 L362.2,358.4 L365.8,357.4 L369.4,356.3 L373.0,355.2 L376.6,354.0 L380.3,352.9 L383.9,351.9 L387.5,351.1 L391.1,350.5 L394.7,350.1 L398.3,350.0 L401.9,350.1 L405.6,350.4 L409.2,351.0 L412.8,351.7 L416.4,352.6 L420.0,353.5 L423.6,354.5 L427.3,355.5 L430.9,356.5 L434.5,357.3 L438.1,358.0 L441.7,358.6 L445.3,358.9 L448.9,359.0 L452.6,358.9 L456.2,358.7 L459.8,358.2 L463.4,357.7 L467.0,357.0 L470.6,356.2 L474.2,355.4 L477.9,354.6 L481.5,353.8 L485.1,353.1 L488.7,352.5 L492.3,352.1 L495.9,351.8 L499.6,351.7 L503.2,351.7 L506.8,351.8 L510.4,351.8 L514.0,351.9 L517.6,352.0 L521.2,352.1 L524.9,352.1 L528.5,352.2 L532.1,352.3 L535.7,352.4 L539.3,352.5 L542.9,352.5 L546.6,352.6 L550.2,352.6 L553.8,352.6 L557.4,352.5 L561.0,352.5 L564.6,352.4 L568.2,352.3 L571.9,352.2 L575.5,352.1 L579.1,352.1 L582.7,352.0 L586.3,351.9 L589.9,351.8 L593.6,351.8 L597.2,351.7 L600.8,351.7 L604.4,351.7 L608.0,351.7 L611.6,351.7 L615.2,351.7 L618.9,351.7 L622.5,351.7 L626.1,351.7 L629.7,351.7 L633.3,351.7 L636.9,351.7 L640.6,351.7 L644.2,351.7 L647.8,351.7 L651.4,351.7"/>
<path d="M297.1,345.7 L300.7,345.7 L304.3,345.8 L307.9,345.9 L311.6,346.1 L315.2,346.3 L318.8,346.6 L322.4,346.8 L326.0,347.1 L329.6,347.3 L333.3,347.5 L336.9,347.7 L340.5,347.9 L344.1,348.0 L347.7,348.0 L351.3,348.0 L354.9,348.0 L358.6,348.1 L362.2,348.2 L365.8,348.2 L369.4,348.3 L373.0,348.5 L376.6,348.6 L380.3,348.7 L383.9,348.7 L387.5,348.8 L391.1,348.9 L394.7,348.9 L398.3,348.9 L401.9,348.9 L405.6,348.8 L409.2,348.6 L412.8,348.3 L416.4,348.0 L420.0,347.7 L423.6,347.3 L427.3,347.0 L430.9,346.6 L434.5,346.3 L438.1,346.1 L441.7,345.9 L445.3,345.7 L448.9,345.7 L452.6,345.8 L456.2,346.0 L459.8,346.4 L463.4,346.8 L467.0,347.4 L470.6,348.0 L474.2,348.7 L477.9,349.4 L481.5,350.0 L485.1,350.6 L488.7,351.1 L492.3,351.4 L495.9,351.6 L499.6,351.7 L503.2,351.7 L506.8,351.5 L510.4,351.3 L514.0,351.0 L517.6,350.6 L521.2,350.1 L524.9,349.7 L528.5,349.2 L532.1,348.8 L535.7,348.4 L539.3,348.1 L542.9,347.8 L546.6,347.7 L550.2,347.6 L553.8,347.7 L557.4,347.7 L561.0,347.8 L564.6,347.9 L568.2,348.0 L571.9,348.1 L575.5,348.3 L579.1,348.4 L582.7,348.6 L586.3,348.7 L589.9,348.8 L593.6,348.9 L597.2,348.9 L600.8,348.9 L604.4,349.0 L608.0,349.1 L611.6,349.2 L615.2,349.5 L618.9,349.7 L622.5,350.0 L626.1,350.3 L629.7,350.6 L633.3,350.9 L636.9,351.2 L640.6,351.4 L644.2,351.6 L647.8,351.7 L651.4,351.7"/>
<path d="M297.1,345.7 L300.7,345.7 L304.3,345.6 L307.9,345.6 L311.6,345.5 L315.2,345.3 L318.8,345.2 L322.4,345.1 L326.0,344.9 L329.6,344.8 L333.3,344.7 L336.9,344.6 L340.5,344.5 L344.1,344.4 L347.7,344.4 L351.3,344.4 L354.9,344.5 L358.6,344.6 L362.2,344.7 L365.8,344.8 L369.4,344.9 L373.0,345.1 L376.6,345.2 L380.3,345.3 L383.9,345.5 L387.5,345.6 L391.1,345.6 L394.7,345.7 L398.3,345.7 L401.9,345.7 L405.6,345.7 L409.2,345.7 L412.8,345.7 L416.4,345.7 L420.0,345.7 L423.6,345.7 L427.3,345.7 L430.9,345.7 L434.5,345.7 L438.1,345.7 L441.7,345.7 L445.3,345.7 L448.9,345.7 L452.6,345.7 L456.2,345.8 L459.8,345.9 L463.4,346.1 L467.0,346.2 L470.6,346.5 L474.2,346.7 L477.9,346.9 L481.5,347.1 L485.1,347.3 L488.7,347.4 L492.3,347.5 L495.9,347.6 L499.6,347.6 L503.2,347.6 L506.8,347.5 L510.4,347.4 L514.0,347.2 L517.6,347.0 L521.2,346.7 L524.9,346.5 L528.5,346.2 L532.1,345.9 L535.7,345.7 L539.3,345.5 L542.9,345.4 L546.6,345.3 L550.2,345.3 L553.8,345.3 L557.4,345.3 L561.0,345.3 L564.6,345.4 L568.2,345.4 L571.9,345.4 L575.5,345.5 L579.1,345.5 L582.7,345.6 L586.3,345.6 L589.9,345.7 L593.6,345.7 L597.2,345.7 L600.8,345.7 L604.4,345.7 L608.0,345.8 L611.6,345.9 L615.2,346.1 L618.9,346.2 L622.5,346.5 L626.1,346.7 L629.7,346.9 L633.3,347.1 L636.9,347.3 L640.6,347.4 L644.2,347.5 L647.8,347.6 L651.4,347.6"/>
<path d="M297.1,338.4 L300.7,338.4 L304.3,338.5 L307.9,338.7 L311.6,339.0 L315.2,339.2 L318.8,339.6 L322.4,339.9 L326.0,340.2 L329.6,340.5 L333.3,340.8 L336.9,341.1 L340.5,341.3 L344.1,341.4 L347.7,341.4 L351.3,341.5 L354.9,341.6 L358.6,341.9 L362.2,342.2 L365.8,342.6 L369.4,343.1 L373.0,343.6 L376.6,344.0 L380.3,344.5 L383.9,344.9 L387.5,345.2 L391.1,345.5 L394.7,345.6 L398.3,345.7 L401.9,345.6 L405.6,345.3 L409.2,344.9 L412.8,344.4 L416.4,343.7 L420.0,342.9 L423.6,342.2 L427.3,341.4 L430.9,340.6 L434.5,339.9 L438.1,339.4 L441.7,339.0 L445.3,338.7 L448.9,338.6 L452.6,338.7 L456.2,338.8 L459.8,339.1 L463.4,339.5 L467.0,340.0 L470.6,340.5 L474.2,341.1 L477.9,341.6 L481.5,342.2 L485.1,342.6 L488.7,343.0 L492.3,343.3 L495.9,343.5 L499.6,343.6 L503.2,343.5 L506.8,343.5 L510.4,343.4 L514.0,343.3 L517.6,343.2 L521.2,343.0 L524.9,342.9 L528.5,342.8 L532.1,342.6 L535.7,342.5 L539.3,342.4 L542.9,342.3 L546.6,342.3 L550.2,342.3 L553.8,342.3 L557.4,342.3 L561.0,342.4 L564.6,342.4 L568.2,342.5 L571.9,342.6 L575.5,342.7 L579.1,342.8 L582.7,342.9 L586.3,343.0 L589.9,343.0 L593.6,343.1 L597.2,343.1 L600.8,343.1 L604.4,343.1 L608.0,343.1 L611.6,343.2 L615.2,343.2 L618.9,343.2 L622.5,343.3 L626.1,343.3 L629.7,343.4 L633.3,343.4 L636.9,343.5 L640.6,343.5 L644.2,343.5 L647.8,343.5 L651.4,343.6"/>
<path d="M297.1,339.0 L300.7,339.0 L304.3,339.0 L307.9,338.9 L311.6,338.8 L315.2,338.8 L318.8,338.7 L322.4,338.6 L326.0,338.5 L329.6,338.4 L333.3,338.3 L336.9,338.3 L340.5,338.2 L344.1,338.2 L347.7,338.2 L351.3,338.2 L354.9,338.4 L358.6,338.7 L362.2,339.1 L365.8,339.6 L369.4,340.1 L373.0,340.6 L376.6,341.2 L380.3,341.7 L383.9,342.2 L387.5,342.6 L391.1,342.9 L394.7,343.1 L398.3,343.1 L401.9,343.1 L405.6,342.9 L409.2,342.6 L412.8,342.3 L416.4,341.8 L420.0,341.4 L423.6,340.9 L427.3,340.4 L430.9,339.9 L434.5,339.5 L438.1,339.1 L441.7,338.8 L445.3,338.7 L448.9,338.6 L452.6,338.7 L456.2,338.8 L459.8,339.1 L463.4,339.5 L467.0,339.9 L470.6,340.4 L474.2,340.9 L477.9,341.4 L481.5,341.8 L485.1,342.3 L488.7,342.6 L492.3,342.9 L495.9,343.1 L499.6,343.1 L503.2,343.1 L506.8,342.9 L510.4,342.7 L514.0,342.4 L517.6,342.0 L521.2,341.5 L524.9,341.1 L528.5,340.6 L532.1,340.2 L535.7,339.8 L539.3,339.5 L542.9,339.2 L546.6,339.1 L550.2,339.0 L553.8,339.0 L557.4,339.1 L561.0,339.1 L564.6,339.2 L568.2,339.3 L571.9,339.4 L575.5,339.5 L579.1,339.6 L582.7,339.7 L586.3,339.7 L589.9,339.8 L593.6,339.9 L597.2,339.9 L600.8,339.9 L604.4,339.9 L608.0,340.1 L611.6,340.2 L615.2,340.5 L618.9,340.8 L622.5,341.1 L626.1,341.5 L629.7,341.9 L633.3,342.2 L636.9,342.5 L640.6,342.8 L644.2,343.0 L647.8,343.1 L651.4,343.1"/>
<path d="M297.1,336.2 L300.7,336.2 L304.3,336.2 L307.9,336.2 L311.6,336.2 L315.2,336.2 L318.8,336.2 L322.4,336.2 L326.0,336.2 L329.6,336.2 L333.3,336.2 L336.9,336.2 L340.5,336.2 L344.1,336.2 L347.7,336.2 L351.3,336.3 L354.9,336.4 L358.6,336.6 L362.2,336.9 L365.8,337.3 L369.4,337.7 L373.0,338.1 L376.6,338.5 L380.3,338.9 L383.9,339.2 L387.5,339.5 L391.1,339.7 L394.7,339.8 L398.3,339.9 L401.9,339.8 L405.6,339.7 L409.2,339.5 L412.8,339.2 L416.4,338.9 L420.0,338.5 L423.6,338.1 L427.3,337.7 L430.9,337.3 L434.5,336.9 L438.1,336.6 L441.7,336.4 L445.3,336.3 L448.9,336.2 L452.6,336.2 L456.2,336.2 L459.8,336.1 L463.4,336.1 L467.0,336.0 L470.6,335.9 L474.2,335.8 L477.9,335.7 L481.5,335.6 L485.1,335.5 L488.7,335.5 L492.3,335.4 L495.9,335.4 L499.6,335.4 L503.2,335.4 L506.8,335.3 L510.4,335.2 L514.0,335.1 L517.6,335.0 L521.2,334.9 L524.9,334.7 L528.5,334.6 L532.1,334.5 L535.7,334.3 L539.3,334.2 L542.9,334.2 L546.6,334.1 L550.2,334.1 L553.8,334.1 L557.4,334.1 L561.0,334.1 L564.6,334.1 L568.2,334.1 L571.9,334.1 L575.5,334.1 L579.1,334.1 L582.7,334.1 L586.3,334.1 L589.9,334.1 L593.6,334.1 L597.2,334.1 L600.8,334.1 L604.4,334.1 L608.0,334.2 L611.6,334.2 L615.2,334.3 L618.9,334.5 L622.5,334.6 L626.1,334.7 L629.7,334.9 L633.3,335.0 L636.9,335.1 L640.6,335.2 L644.2,335.3 L647.8,335.4 L651.4,335.4"/>
<path d="M297.1,334.5 L300.7,334.5 L304.3,334.5 L307.9,334.5 L311.6,334.4 L315.2,334.4 L318.8,334.4 L322.4,334.3 L326.0,334.3 L329.6,334.2 L333.3,334.2 L336.9,334.1 L340.5,334.1 L344.1,334.1 L347.7,334.1 L351.3,334.1 L354.9,334.1 L358.6,334.1 L362.2,334.1 L365.8,334.1 L369.4,334.1 L373.0,334.1 L376.6,334.1 L380.3,334.1 L383.9,334.1 L387.5,334.1 L391.1,334.1 L394.7,334.1 L398.3,334.1 L401.9,334.1 L405.6,334.2 L409.2,334.3 L412.8,334.5 L416.4,334.7 L420.0,334.9 L423.6,335.2 L427.3,335.4 L430.9,335.6 L434.5,335.8 L438.1,336.0 L441.7,336.1 L445.3,336.2 L448.9,336.2 L452.6,336.2 L456.2,336.2 L459.8,336.1 L463.4,336.1 L467.0,336.0 L470.6,335.9 L474.2,335.8 L477.9,335.7 L481.5,335.6 L485.1,335.5 L488.7,335.5 L492.3,335.4 L495.9,335.4 L499.6,335.4 L503.2,335.4 L506.8,335.3 L510.4,335.2 L514.0,335.1 L517.6,335.0 L521.2,334.9 L524.9,334.7 L528.5,334.6 L532.1,334.5 L535.7,334.3 L539.3,334.2 L542.9,334.2 L546.6,334.1 L550.2,334.1 L553.8,334.1 L557.4,334.1 L561.0,334.1 L564.6,334.1 L568.2,334.1 L571.9,334.1 L575.5,334.1 L579.1,334.1 L582.7,334.1 L586.3,334.1 L589.9,334.1 L593.6,334.1 L597.2,334.1 L600.8,334.1 L604.4,334.1 L608.0,334.2 L611.6,334.2 L615.2,334.3 L618.9,334.5 L622.5,334.6 L626.1,334.7 L629.7,334.9 L633.3,335.0 L636.9,335.1 L640.6,335.2 L644.2,335.3 L647.8,335.4 L651.4,335.4"/>
<path d="M297.1,334.7 L300.7,334.7 L304.3,334.6 L307.9,334.5 L311.6,334.3 L315.2,334.1 L318.8,333.9 L322.4,333.7 L326.0,333.4 L329.6,333.2 L333.3,333.0 L336.9,332.8 L340.5,332.7 L344.1,332.6 L347.7,332.6 L351.3,332.6 L354.9,332.5 L358.6,332.4 L362.2,332.3 L365.8,332.2 L369.4,332.1 L373.0,331.9 L376.6,331.8 L380.3,331.7 L383.9,331.5 L387.5,331.4 L391.1,331.4 L394.7,331.3 L398.3,331.3 L401.9,331.3 L405.6,331.4 L409.2,331.5 L412.8,331.6 L416.4,331.7 L420.0,331.9 L423.6,332.0 L427.3,332.2 L430.9,332.4 L434.5,332.5 L438.1,332.6 L441.7,332.7 L445.3,332.8 L448.9,332.8 L452.6,332.8 L456.2,332.7 L459.8,332.6 L463.4,332.5 L467.0,332.4 L470.6,332.2 L474.2,332.0 L477.9,331.9 L481.5,331.7 L485.1,331.6 L488.7,331.5 L492.3,331.4 L495.9,331.3 L499.6,331.3 L503.2,331.3 L506.8,331.3 L510.4,331.3 L514.0,331.4 L517.6,331.4 L521.2,331.5 L524.9,331.5 L528.5,331.6 L532.1,331.6 L535.7,331.6 L539.3,331.7 L542.9,331.7 L546.6,331.7 L550.2,331.7 L553.8,331.7 L557.4,331.7 L561.0,331.7 L564.6,331.6 L568.2,331.6 L571.9,331.6 L575.5,331.5 L579.1,331.5 L582.7,331.4 L586.3,331.4 L589.9,331.3 L593.6,331.3 L597.2,331.3 L600.8,331.3 L604.4,331.3 L608.0,331.3 L611.6,331.3 L615.2,331.3 L618.9,331.3 L622.5,331.3 L626.1,331.3 L629.7,331.3 L633.3,331.3 L636.9,331.3 L640.6,331.3 L644.2,331.3 L647.8,331.3 L651.4,331.3"/>
<path d="M297.1,334.9 L300.7,334.9 L304.3,334.8 L307.9,334.6 L311.6,334.3 L315.2,334.0 L318.8,333.7 L322.4,333.3 L326.0,333.0 L329.6,332.6 L333.3,332.3 L336.9,332.1 L340.5,331.9 L344.1,331.8 L347.7,331.7 L351.3,331.7 L354.9,331.7 L358.6,331.7 L362.2,331.6 L365.8,331.6 L369.4,331.6 L373.0,331.5 L376.6,331.5 L380.3,331.4 L383.9,331.4 L387.5,331.3 L391.1,331.3 L394.7,331.3 L398.3,331.3 L401.9,331.3 L405.6,331.4 L409.2,331.5 L412.8,331.6 L416.4,331.7 L420.0,331.9 L423.6,332.0 L427.3,332.2 L430.9,332.4 L434.5,332.5 L438.1,332.6 L441.7,332.7 L445.3,332.8 L448.9,332.8 L452.6,332.8 L456.2,332.7 L459.8,332.7 L463.4,332.6 L467.0,332.4 L470.6,332.3 L474.2,332.2 L477.9,332.0 L481.5,331.9 L485.1,331.8 L488.7,331.7 L492.3,331.6 L495.9,331.5 L499.6,331.5 L503.2,331.5 L506.8,331.5 L510.4,331.5 L514.0,331.6 L517.6,331.6 L521.2,331.6 L524.9,331.6 L528.5,331.6 L532.1,331.7 L535.7,331.7 L539.3,331.7 L542.9,331.7 L546.6,331.7 L550.2,331.7 L553.8,331.7 L557.4,331.7 L561.0,331.7 L564.6,331.6 L568.2,331.6 L571.9,331.6 L575.5,331.5 L579.1,331.5 L582.7,331.4 L586.3,331.4 L589.9,331.3 L593.6,331.3 L597.2,331.3 L600.8,331.3 L604.4,331.3 L608.0,331.3 L611.6,331.3 L615.2,331.3 L618.9,331.4 L622.5,331.4 L626.1,331.4 L629.7,331.4 L633.3,331.4 L636.9,331.5 L640.6,331.5 L644.2,331.5 L647.8,331.5 L651.4,331.5"/>
<path d="M297.1,337.1 L300.7,337.1 L304.3,337.1 L307.9,337.1 L311.6,337.1 L315.2,337.1 L318.8,337.1 L322.4,337.1 L326.0,337.1 L329.6,337.1 L333.3,337.1 L336.9,337.1 L340.5,337.1 L344.1,337.1 L347.7,337.1 L351.3,337.1 L354.9,337.1 L358.6,337.0 L362.2,336.9 L365.8,336.9 L369.4,336.8 L373.0,336.7 L376.6,336.6 L380.3,336.5 L383.9,336.4 L387.5,336.3 L391.1,336.3 L394.7,336.3 L398.3,336.2 L401.9,336.2 L405.6,336.2 L409.2,336.2 L412.8,336.2 L416.4,336.2 L420.0,336.2 L423.6,336.2 L427.3,336.2 L430.9,336.2 L434.5,336.2 L438.1,336.2 L441.7,336.2 L445.3,336.2 L448.9,336.2 L452.6,336.2 L456.2,336.2 L459.8,336.1 L463.4,335.9 L467.0,335.8 L470.6,335.6 L474.2,335.4 L477.9,335.2 L481.5,335.0 L485.1,334.8 L488.7,334.7 L492.3,334.6 L495.9,334.5 L499.6,334.5 L503.2,334.6 L506.8,334.6 L510.4,334.8 L514.0,335.0 L517.6,335.3 L521.2,335.5 L524.9,335.8 L528.5,336.1 L532.1,336.4 L535.7,336.6 L539.3,336.8 L542.9,337.0 L546.6,337.1 L550.2,337.1 L553.8,337.1 L557.4,337.1 L561.0,337.0 L564.6,336.9 L568.2,336.9 L571.9,336.8 L575.5,336.7 L579.1,336.6 L582.7,336.5 L586.3,336.4 L589.9,336.3 L593.6,336.3 L597.2,336.3 L600.8,336.2 L604.4,336.2 L608.0,336.2 L611.6,336.1 L615.2,335.9 L618.9,335.8 L622.5,335.6 L626.1,335.4 L629.7,335.2 L633.3,335.0 L636.9,334.8 L640.6,334.7 L644.2,334.6 L647.8,334.5 L651.4,334.5"/>
<path d="M297.1,335.4 L300.7,335.4 L304.3,335.3 L307.9,335.1 L311.6,335.0 L315.2,334.8 L318.8,334.5 L322.4,334.3 L326.0,334.1 L329.6,333.8 L333.3,333.6 L336.9,333.5 L340.5,333.3 L344.1,333.3 L347.7,333.2 L351.3,333.2 L354.9,333.2 L358.6,333.2 L362.2,333.1 L365.8,333.1 L369.4,333.1 L373.0,333.0 L376.6,333.0 L380.3,332.9 L383.9,332.9 L387.5,332.8 L391.1,332.8 L394.7,332.8 L398.3,332.8 L401.9,332.8 L405.6,332.9 L409.2,332.9 L412.8,333.0 L416.4,333.2 L420.0,333.3 L423.6,333.4 L427.3,333.6 L430.9,333.7 L434.5,333.8 L438.1,333.9 L441.7,334.0 L445.3,334.1 L448.9,334.1 L452.6,334.1 L456.2,334.0 L459.8,334.0 L463.4,333.9 L467.0,333.8 L470.6,333.8 L474.2,333.7 L477.9,333.6 L481.5,333.5 L485.1,333.4 L488.7,333.3 L492.3,333.3 L495.9,333.2 L499.6,333.2 L503.2,333.2 L506.8,333.2 L510.4,333.2 L514.0,333.2 L517.6,333.2 L521.2,333.2 L524.9,333.2 L528.5,333.2 L532.1,333.2 L535.7,333.2 L539.3,333.2 L542.9,333.2 L546.6,333.2 L550.2,333.2 L553.8,333.2 L557.4,333.2 L561.0,333.2 L564.6,333.1 L568.2,333.1 L571.9,333.1 L575.5,333.0 L579.1,333.0 L582.7,332.9 L586.3,332.9 L589.9,332.8 L593.6,332.8 L597.2,332.8 L600.8,332.8 L604.4,332.8 L608.0,332.8 L611.6,332.8 L615.2,332.9 L618.9,332.9 L622.5,333.0 L626.1,333.0 L629.7,333.1 L633.3,333.1 L636.9,333.1 L640.6,333.2 L644.2,333.2 L647.8,333.2 L651.4,333.2"/>
<path d="M297.1,338.0 L300.7,337.9 L304.3,337.8 L307.9,337.7 L311.6,337.5 L315.2,337.2 L318.8,337.0 L322.4,336.7 L326.0,336.4 L329.6,336.1 L333.3,335.9 L336.9,335.7 L340.5,335.5 L344.1,335.4 L347.7,335.4 L351.3,335.4 L354.9,335.5 L358.6,335.7 L362.2,335.9 L365.8,336.1 L369.4,336.4 L373.0,336.7 L376.6,337.0 L380.3,337.2 L383.9,337.5 L387.5,337.7 L391.1,337.8 L394.7,337.9 L398.3,338.0 L401.9,338.0 L405.6,338.0 L409.2,338.0 L412.8,338.0 L416.4,338.0 L420.0,338.0 L423.6,338.0 L427.3,338.0 L430.9,338.0 L434.5,338.0 L438.1,338.0 L441.7,338.0 L445.3,338.0 L448.9,338.0 L452.6,338.0 L456.2,338.0 L459.8,338.1 L463.4,338.3 L467.0,338.4 L470.6,338.6 L474.2,338.8 L477.9,339.0 L481.5,339.2 L485.1,339.4 L488.7,339.5 L492.3,339.6 L495.9,339.7 L499.6,339.7 L503.2,339.7 L506.8,339.6 L510.4,339.5 L514.0,339.4 L517.6,339.2 L521.2,339.0 L524.9,338.8 L528.5,338.6 L532.1,338.4 L535.7,338.3 L539.3,338.1 L542.9,338.0 L546.6,338.0 L550.2,338.0 L553.8,337.9 L557.4,337.9 L561.0,337.9 L564.6,337.8 L568.2,337.7 L571.9,337.6 L575.5,337.5 L579.1,337.4 L582.7,337.3 L586.3,337.3 L589.9,337.2 L593.6,337.1 L597.2,337.1 L600.8,337.1 L604.4,337.1 L608.0,337.2 L611.6,337.4 L615.2,337.6 L618.9,337.8 L622.5,338.1 L626.1,338.4 L629.7,338.7 L633.3,338.9 L636.9,339.2 L640.6,339.4 L644.2,339.6 L647.8,339.6 L651.4,339.7"/>
<path d="M297.1,339.2 L300.7,339.3 L304.3,339.3 L307.9,339.3 L311.6,339.3 L315.2,339.4 L318.8,339.4 L322.4,339.5 L326.0,339.5 L329.6,339.6 L333.3,339.6 L336.9,339.6 L340.5,339.7 L344.1,339.7 L347.7,339.7 L351.3,339.7 L354.9,339.8 L358.6,339.9 L362.2,340.0 L365.8,340.2 L369.4,340.3 L373.0,340.5 L376.6,340.7 L380.3,340.9 L383.9,341.1 L387.5,341.2 L391.1,341.3 L394.7,341.4 L398.3,341.4 L401.9,341.4 L405.6,341.3 L409.2,341.1 L412.8,340.9 L416.4,340.6 L420.0,340.3 L423.6,340.0 L427.3,339.7 L430.9,339.4 L434.5,339.1 L438.1,338.9 L441.7,338.7 L445.3,338.6 L448.9,338.6 L452.6,338.6 L456.2,338.7 L459.8,338.9 L463.4,339.1 L467.0,339.4 L470.6,339.7 L474.2,340.0 L477.9,340.3 L481.5,340.6 L485.1,340.9 L488.7,341.1 L492.3,341.3 L495.9,341.4 L499.6,341.4 L503.2,341.4 L506.8,341.3 L510.4,341.2 L514.0,341.1 L517.6,340.9 L521.2,340.7 L524.9,340.5 L528.5,340.3 L532.1,340.2 L535.7,340.0 L539.3,339.9 L542.9,339.8 L546.6,339.7 L550.2,339.7 L553.8,339.7 L557.4,339.8 L561.0,339.9 L564.6,340.0 L568.2,340.2 L571.9,340.3 L575.5,340.5 L579.1,340.7 L582.7,340.9 L586.3,341.1 L589.9,341.2 L593.6,341.3 L597.2,341.4 L600.8,341.4 L604.4,341.4 L608.0,341.4 L611.6,341.4 L615.2,341.4 L618.9,341.4 L622.5,341.4 L626.1,341.4 L629.7,341.4 L633.3,341.4 L636.9,341.4 L640.6,341.4 L644.2,341.4 L647.8,341.4 L651.4,341.4"/>
</g>
<line x1="297.1" x2="651.4" y1="37.5" y2="37.5" stroke="#000" stroke-width="2"/>
<g stroke="#8c8c8c" stroke-width="1" fill="none">
<path d="M297.1,37.5 V371.5 M651.4,37.5 V371.5 M297.1,371.5 H651.4"/>
<path d="M297.1,371.5 h3 M651.4,371.5 h-3"/>
<path d="M297.1,328.5 h3 M651.4,328.5 h-3"/>
<path d="M297.1,285.5 h3 M651.4,285.5 h-3"/>
<path d="M297.1,242.5 h3 M651.4,242.5 h-3"/>
<path d="M297.1,199.5 h3 M651.4,199.5 h-3"/>
<path d="M297.1,156.5 h3 M651.4,156.5 h-3"/>
<path d="M297.1,113.5 h3 M651.4,113.5 h-3"/>
<path d="M297.1,70.5 h3 M651.4,70.5 h-3"/>
<path d="M347.7,371.5 v-3 M347.7,37.5 v3"/>
<path d="M398.3,371.5 v-3 M398.3,37.5 v3"/>
<path d="M448.9,371.5 v-3 M448.9,37.5 v3"/>
<path d="M499.6,371.5 v-3 M499.6,37.5 v3"/>
<path d="M550.2,371.5 v-3 M550.2,37.5 v3"/>
<path d="M600.8,371.5 v-3 M600.8,37.5 v3"/>
</g>
<g font-family="Liberation Serif, serif" font-size="23" fill="#000" text-anchor="end">
<text x="295.3" y="380.7">0</text>
<text x="295.3" y="337.7">1</text>
<text x="295.3" y="294.7">2</text>
<text x="295.3" y="251.7">3</text>
<text x="295.3" y="208.7">4</text>
<text x="295.3" y="165.7">5</text>
<text x="295.3" y="122.7">6</text>
<text x="295.3" y="79.7">7</text>
</g>
<g font-family="Liberation Serif, serif" font-size="17.4" fill="#000" text-anchor="middle">
<text x="297.1" y="385">Γ</text>
<text x="347.7" y="385">X</text>
<text x="398.3" y="385">M</text>
<text x="448.9" y="385">Γ</text>
<text x="499.6" y="385">R</text>
<text x="550.2" y="385">X</text>
<text x="600.8" y="385">M</text>
<text x="651.4" y="385">R</text>
</g>
<text font-family="Liberation Serif, serif" font-size="24.7" x="341" y="411.1">Irreducible Brillouin Zone</text>
<text font-family="Liberation Serif, serif" font-size="34" x="452" y="25" letter-spacing="1">(b)</text>
<text font-family="Liberation Serif, serif" font-size="20" font-style="italic" x="313" y="31">a</text>
<text font-family="Liberation Serif, serif" font-size="24.4" x="475.3" y="193.7" text-anchor="middle">157.6%</text>
<text font-family="Liberation Serif, serif" font-size="22.3" transform="translate(270.3,291.5) rotate(-90)">Frequency <tspan font-style="italic">f</tspan> (kHz)</text>
<polygon points="521.5,324.0 607.2,324.0 624.7,306.5 539.0,306.5" fill="#dde7f2" opacity="0.85"/>
<g stroke="#555" stroke-width="0.6" fill="none">
<path d="M519.5,235.6 L605.2,235.6 L607.2,324.0 L521.5,324.0 Z"/>
<path d="M537.0,218.1 L622.7,218.1 L624.7,306.5 L539.0,306.5 Z"/>
<path d="M519.5,235.6 l17.5,-17.5 M605.2,235.6 l17.5,-17.5 M607.2,324.0 l17.5,-17.5 M521.5,324.0 l17.5,-17.5"/>
</g>
<polygon points="570.6,270.2 605.2,235.9 619.1,270.2" fill="#6d95d8" opacity="0.8"/>
<polygon points="570.6,270.2 619.1,270.2 606.2,295.2" fill="#5f89d2" opacity="0.8"/>
<polyline points="570.6,270.2 605.2,235.9 619.1,270.2 606.2,295.2 570.6,270.2" fill="none" stroke="#4a78cc" stroke-width="0.8"/>
<line x1="605.2" y1="235.9" x2="606.2" y2="295.2" stroke="#4a78cc" stroke-width="0.8"/>
<g stroke="#111" stroke-width="1.3">
<line x1="570.6" y1="270.2" x2="568.6" y2="217"/>
<line x1="570.6" y1="270.2" x2="631" y2="270.6"/>
<line x1="570.6" y1="270.2" x2="541" y2="289"/>
</g>
<polygon points="568.3,213.5 566.8,219 569.8,219" fill="#111"/>
<polygon points="634.5,270.7 629,269 629,272.4" fill="#111"/>
<polygon points="538.3,290.6 543.8,289.6 542.0,286.8" fill="#111"/>
<text font-family="Liberation Serif, serif" font-size="10.5" font-style="italic" x="565" y="211">k<tspan font-size="7.5" dy="2">y</tspan></text>
<text font-family="Liberation Serif, serif" font-size="10.5" font-style="italic" x="635.5" y="274">k<tspan font-size="7.5" dy="2">x</tspan></text>
<text font-family="Liberation Serif, serif" font-size="10.5" font-style="italic" x="528.5" y="295">k<tspan font-size="7.5" dy="2">z</tspan></text>
<text font-family="Liberation Serif, serif" font-size="9.5" x="563" y="272.5">Γ</text>
<text font-family="Liberation Serif, serif" font-size="9.5" x="600.5" y="233.5">R</text>
<text font-family="Liberation Serif, serif" font-size="9.5" x="619.5" y="281">X</text>
<text font-family="Liberation Serif, serif" font-size="9.5" x="597.5" y="304">M</text>
<polygon points="130.20,253.88 131.13,257.00 134.15,257.00 131.71,258.93 132.64,262.06 130.20,260.13 127.76,262.06 128.69,258.93 126.25,257.00 129.27,257.00" fill="#ff0000"/>
<polygon points="157.20,355.88 158.13,359.00 161.15,359.00 158.71,360.93 159.64,364.06 157.20,362.13 154.76,364.06 155.69,360.93 153.25,359.00 156.27,359.00" fill="#ff0000"/>
<polygon points="502.10,322.54 504.23,329.70 511.14,329.70 505.55,334.12 507.68,341.28 502.10,336.86 496.52,341.28 498.65,334.12 493.06,329.70 499.97,329.70" fill="#ff0000"/>
<polygon points="45.50,261.10 46.60,263.00 48.79,263.00 47.69,264.90 48.79,266.80 46.60,266.80 45.50,268.70 44.40,266.80 42.21,266.80 43.31,264.90 42.21,263.00 44.40,263.00" fill="#3e5e26"/>
<polygon points="240.60,172.70 241.70,174.60 243.89,174.60 242.79,176.50 243.89,178.40 241.70,178.40 240.60,180.30 239.50,178.40 237.31,178.40 238.41,176.50 237.31,174.60 239.50,174.60" fill="#3e5e26"/>
<polygon points="296.90,28.40 299.73,33.30 305.39,33.30 302.56,38.20 305.39,43.10 299.73,43.10 296.90,48.00 294.07,43.10 288.41,43.10 291.24,38.20 288.41,33.30 294.07,33.30" fill="#3e5e26"/>
<text font-family="Liberation Serif, serif" font-size="44" x="320.5" y="472.5">(c)</text>
<text font-family="Liberation Serif, serif" font-size="28.7" x="198.8" y="451.4">0.03981</text>
<text font-family="Liberation Serif, serif" font-size="28.7" x="178.2" y="485.0">(929.24Hz)</text>
<text font-family="Liberation Serif, serif" font-size="28.7" x="397.0" y="449.5">0.3455</text>
<text font-family="Liberation Serif, serif" font-size="28.7" x="382.3" y="484.0">(8065.4Hz)</text>
<text font-family="Liberation Serif, serif" font-size="28.7" x="206.8" y="682.0">0.3362</text>
<text font-family="Liberation Serif, serif" font-size="28.7" x="177.7" y="715.5">(7847.3Hz)</text>
<text font-family="Liberation Serif, serif" font-size="28.7" x="398.8" y="681.0">0.6106</text>
<text font-family="Liberation Serif, serif" font-size="28.7" x="376.7" y="715.5">(14253Hz)</text>
<text font-family="Liberation Serif, serif" font-size="44.3" transform="translate(152.3,618.3) rotate(-90)">Start</text>
<text font-family="Liberation Serif, serif" font-size="43.5" transform="translate(150,840.7) rotate(-90)">End</text>
<polygon points="101.80,556.86 106.07,571.19 119.90,571.19 108.71,580.05 112.99,594.38 101.80,585.52 90.61,594.38 94.89,580.05 83.70,571.19 97.53,571.19" fill="#ff0000"/>
<polygon points="102.00,787.30 107.25,796.40 117.76,796.40 112.51,805.50 117.76,814.60 107.25,814.60 102.00,823.70 96.75,814.60 86.24,814.60 91.49,805.50 86.24,796.40 96.75,796.40" fill="#3e5e26"/>
<defs>
<radialGradient id="gt" gradientUnits="userSpaceOnUse" cx="0" cy="0" r="1" gradientTransform="translate(250.3,494.8) scale(50,64)"><stop offset="0" stop-color="#0000b0"/><stop offset="0.15" stop-color="#0030ff"/><stop offset="0.33" stop-color="#00c0ff"/><stop offset="0.47" stop-color="#40ffc0"/><stop offset="0.6" stop-color="#c0ff40"/><stop offset="0.73" stop-color="#ffd000"/><stop offset="0.88" stop-color="#ff7000"/><stop offset="1" stop-color="#e83000"/></radialGradient>
<radialGradient id="gb" gradientUnits="userSpaceOnUse" cx="0" cy="0" r="1" gradientTransform="translate(247.3,654.8) scale(52,64)"><stop offset="0" stop-color="#0000b0"/><stop offset="0.15" stop-color="#0030ff"/><stop offset="0.33" stop-color="#00c0ff"/><stop offset="0.47" stop-color="#40ffc0"/><stop offset="0.6" stop-color="#c0ff40"/><stop offset="0.73" stop-color="#ffd000"/><stop offset="0.88" stop-color="#ff7000"/><stop offset="1" stop-color="#e83000"/></radialGradient>
<radialGradient id="gl" gradientUnits="userSpaceOnUse" cx="0" cy="0" r="1" gradientTransform="translate(161.3,574.8) scale(40,52)"><stop offset="0" stop-color="#0000a8"/><stop offset="0.25" stop-color="#0040f0"/><stop offset="0.5" stop-color="#0a98e8"/><stop offset="0.75" stop-color="#18c0e0"/><stop offset="1" stop-color="#30d8d8"/></radialGradient>
<radialGradient id="gr" gradientUnits="userSpaceOnUse" cx="0" cy="0" r="1" gradientTransform="translate(325.3,574.8) scale(40,52)"><stop offset="0" stop-color="#0000a8"/><stop offset="0.25" stop-color="#0040f0"/><stop offset="0.5" stop-color="#0a98e8"/><stop offset="0.75" stop-color="#18c0e0"/><stop offset="1" stop-color="#30d8d8"/></radialGradient>
<linearGradient id="gc" x1="0" y1="0" x2="1" y2="1"><stop offset="0.1" stop-color="#b00000"/><stop offset="0.25" stop-color="#f03000"/><stop offset="0.4" stop-color="#ffb000"/><stop offset="0.5" stop-color="#b0e060"/><stop offset="0.6" stop-color="#ffb000"/><stop offset="0.75" stop-color="#f03000"/><stop offset="0.9" stop-color="#b00000"/></linearGradient>
<linearGradient id="gsq" x1="0" y1="0" x2="1" y2="1"><stop offset="0" stop-color="#e82000"/><stop offset="0.3" stop-color="#ff8000"/><stop offset="0.5" stop-color="#f0c020"/><stop offset="0.7" stop-color="#ff8000"/><stop offset="1" stop-color="#e02000"/></linearGradient>
<linearGradient id="gin" x1="0" y1="0" x2="1" y2="1"><stop offset="0" stop-color="#f03000"/><stop offset="0.25" stop-color="#ffa000"/><stop offset="0.45" stop-color="#c0e050"/><stop offset="0.6" stop-color="#d8e040"/><stop offset="0.8" stop-color="#ffa000"/><stop offset="1" stop-color="#f04000"/></linearGradient>
</defs>
<circle cx="243.3" cy="574.8" r="43" fill="url(#gc)" stroke="#000" stroke-width="0.4"/>
<g transform="rotate(-3 243.3 574.8)">
<rect x="209.8" y="541.3" width="67.0" height="67.0" fill="url(#gsq)"/>
</g>
<rect x="216.8" y="548.3" width="54.0" height="54.0" fill="url(#gin)" stroke="#000" stroke-width="0.6"/>
<circle cx="242.3" cy="573.8" r="18" fill="#b8e058" stroke="#000" stroke-width="0.4" stroke-opacity="0.7"/>
<rect x="239.8" y="541.3" width="7.0" height="13.0" fill="#30c8e0" stroke="#000" stroke-width="0.4"/>
<rect x="239.8" y="595.3" width="7.0" height="13.0" fill="#30c8e0" stroke="#000" stroke-width="0.4"/>
<rect x="209.8" y="571.3" width="15.0" height="7.0" fill="#f04010" stroke="#000" stroke-width="0.4"/>
<rect x="261.8" y="571.3" width="15.0" height="7.0" fill="#f04010" stroke="#000" stroke-width="0.4"/>
<defs><radialGradient id="hm1" cx="0.4" cy="0.4" r="0.65"><stop offset="0" stop-color="#fff040"/><stop offset="1" stop-color="#e0c000"/></radialGradient></defs>
<circle cx="243.3" cy="524.3" r="18.0" fill="url(#hm1)" stroke="#000" stroke-width="0.3" stroke-opacity="0.5"/>
<defs><radialGradient id="hm2" cx="0.4" cy="0.4" r="0.65"><stop offset="0" stop-color="#e0e040"/><stop offset="1" stop-color="#a8c020"/></radialGradient></defs>
<circle cx="243.3" cy="625.3" r="18.0" fill="url(#hm2)" stroke="#000" stroke-width="0.3" stroke-opacity="0.5"/>
<defs><radialGradient id="hm3" cx="0.4" cy="0.4" r="0.65"><stop offset="0" stop-color="#60f0ff"/><stop offset="1" stop-color="#10a8d8"/></radialGradient></defs>
<circle cx="192.8" cy="574.8" r="18.0" fill="url(#hm3)" stroke="#000" stroke-width="0.3" stroke-opacity="0.5"/>
<defs><radialGradient id="hm4" cx="0.4" cy="0.4" r="0.65"><stop offset="0" stop-color="#60f0ff"/><stop offset="1" stop-color="#10a8d8"/></radialGradient></defs>
<circle cx="293.8" cy="574.8" r="18.0" fill="url(#hm4)" stroke="#000" stroke-width="0.3" stroke-opacity="0.5"/>
<path d="M197.1,496.2 Q243.3,493.6 289.5,496.2 L289.5,526.3 L197.1,525.3 Z" fill="url(#gt)" stroke="#111" stroke-width="0.5"/>
<path d="M197.3,620.8 L289.3,620.8 L289.3,651.3 Q243.3,654.3 197.3,651.3 Z" fill="url(#gb)" stroke="#111" stroke-width="0.5"/>
<path d="M166.8,528.8 Q163.8,574.8 166.8,620.8 L197.3,620.8 L197.3,528.8 Z" fill="url(#gl)" stroke="#111" stroke-width="0.5"/>
<path d="M289.3,528.8 L319.8,528.8 Q322.8,574.8 319.8,620.8 L289.3,620.8 Z" fill="url(#gr)" stroke="#111" stroke-width="0.5"/>
<path d="M243.3,496.1 V528.8 M243.3,620.8 V653.5 M164.6,574.8 H197.3 M289.3,574.8 H322.0" stroke="#000" stroke-width="0.7" opacity="0.7"/>
<g fill="none" stroke="#222" stroke-width="0.6">
<path d="M196.5,497.0 Q243.3,494.0 290.1,497.0 L290.1,528.3 L196.5,528.3 Z"/>
<path d="M196.5,621.3 L290.1,621.3 L290.1,652.6 Q243.3,655.6 196.5,652.6 Z"/>
<path d="M165.5,528.0 Q162.5,574.8 165.5,621.6 L196.8,621.6 L196.8,528.0 Z"/>
<path d="M289.8,528.0 L321.1,528.0 Q324.1,574.8 321.1,621.6 L289.8,621.6 Z"/>
</g>
<circle cx="437.3" cy="574.5" r="42.5" fill="#07077f" stroke="#000" stroke-width="0.4"/>
<defs><radialGradient id="hm5" cx="0.4" cy="0.4" r="0.65"><stop offset="0" stop-color="#1424c4"/><stop offset="1" stop-color="#08088a"/></radialGradient></defs>
<circle cx="437.3" cy="524.0" r="18.0" fill="url(#hm5)" stroke="#000" stroke-width="0.3" stroke-opacity="0.5"/>
<defs><radialGradient id="hm6" cx="0.4" cy="0.4" r="0.65"><stop offset="0" stop-color="#1424c4"/><stop offset="1" stop-color="#08088a"/></radialGradient></defs>
<circle cx="437.3" cy="625.0" r="18.0" fill="url(#hm6)" stroke="#000" stroke-width="0.3" stroke-opacity="0.5"/>
<defs><radialGradient id="hm7" cx="0.4" cy="0.4" r="0.65"><stop offset="0" stop-color="#1424c4"/><stop offset="1" stop-color="#08088a"/></radialGradient></defs>
<circle cx="386.8" cy="574.5" r="18.0" fill="url(#hm7)" stroke="#000" stroke-width="0.3" stroke-opacity="0.5"/>
<defs><radialGradient id="hm8" cx="0.4" cy="0.4" r="0.65"><stop offset="0" stop-color="#1424c4"/><stop offset="1" stop-color="#08088a"/></radialGradient></defs>
<circle cx="487.8" cy="574.5" r="18.0" fill="url(#hm8)" stroke="#000" stroke-width="0.3" stroke-opacity="0.5"/>
<defs><radialGradient id="fr9" gradientUnits="userSpaceOnUse" cx="437.3" cy="574.5" r="45.5"><stop offset="0.62" stop-color="#0008c0"/><stop offset="0.72" stop-color="#0040ff"/><stop offset="0.8" stop-color="#0098ff"/><stop offset="0.87" stop-color="#20e8f0"/><stop offset="0.94" stop-color="#d0f030"/><stop offset="1" stop-color="#ffa000"/></radialGradient></defs>
<path d="M405.1,542.3 h64.4 v64.4 h-64.4 Z M410.7,547.9 v53.2 h53.2 v-53.2 Z" fill="url(#fr9)" fill-rule="evenodd" stroke="#000" stroke-width="0.3" stroke-opacity="0.6"/>
<defs><clipPath id="hs10c"><path d="M405.1,542.3 h64.4 v64.4 h-64.4 Z M410.7,547.9 v53.2 h53.2 v-53.2 Z" fill-rule="evenodd" clip-rule="evenodd"/></clipPath><radialGradient id="hs10" cx="0.5" cy="0.5" r="0.5"><stop offset="0" stop-color="#ff8000"/><stop offset="0.35" stop-color="#ffc000" stop-opacity="0.9"/><stop offset="0.7" stop-color="#a0ff60" stop-opacity="0.5"/><stop offset="1" stop-color="#40ffd0" stop-opacity="0"/></radialGradient></defs>
<circle cx="405.1" cy="542.3" r="15" fill="url(#hs10)" clip-path="url(#hs10c)"/>
<defs><linearGradient id="tb11" x1="0" y1="1" x2="1" y2="0"><stop offset="0" stop-color="#40e0c0"/><stop offset="0.5" stop-color="#ffd000"/><stop offset="1" stop-color="#ff1800"/></linearGradient></defs>
<rect x="430.5" y="542.3" width="13.6" height="13.0" fill="url(#tb11)" stroke="#000" stroke-width="0.3" stroke-opacity="0.6"/>
<path d="M437.3,543.3 v11.0" stroke="#000" stroke-width="0.4" stroke-opacity="0.5"/>
<defs><linearGradient id="tb12" x1="0" y1="1" x2="1" y2="0"><stop offset="0" stop-color="#30d0e0"/><stop offset="0.5" stop-color="#80f080"/><stop offset="1" stop-color="#f0e020"/></linearGradient></defs>
<rect x="430.5" y="593.7" width="13.6" height="13.0" fill="url(#tb12)" stroke="#000" stroke-width="0.3" stroke-opacity="0.6"/>
<path d="M437.3,594.7 v11.0" stroke="#000" stroke-width="0.4" stroke-opacity="0.5"/>
<defs><linearGradient id="tb13" x1="0" y1="0" x2="1" y2="0"><stop offset="0" stop-color="#ff3000"/><stop offset="0.5" stop-color="#ffc000"/><stop offset="1" stop-color="#60e8c0"/></linearGradient></defs>
<rect x="405.1" y="567.7" width="13.0" height="13.6" fill="url(#tb13)" stroke="#000" stroke-width="0.3" stroke-opacity="0.6"/>
<path d="M406.1,574.5 h11.0" stroke="#000" stroke-width="0.4" stroke-opacity="0.5"/>
<defs><linearGradient id="tb14" x1="1" y1="0" x2="0" y2="0"><stop offset="0" stop-color="#ff8000"/><stop offset="0.5" stop-color="#f0e020"/><stop offset="1" stop-color="#40d8e0"/></linearGradient></defs>
<rect x="456.5" y="567.7" width="13.0" height="13.6" fill="url(#tb14)" stroke="#000" stroke-width="0.3" stroke-opacity="0.6"/>
<path d="M457.5,574.5 h11.0" stroke="#000" stroke-width="0.4" stroke-opacity="0.5"/>
<circle cx="437.3" cy="574.5" r="17.5" fill="#07077f" stroke="#000" stroke-width="0.5" stroke-opacity="0.6"/>
<path d="M391.3,498.0 Q437.3,495.0 483.3,498.0 L483.3,528.5 L391.3,528.5 Z" fill="#07077f" stroke="#111" stroke-width="0.5"/>
<path d="M391.3,620.5 L483.3,620.5 L483.3,651.0 Q437.3,654.0 391.3,651.0 Z" fill="#07077f" stroke="#111" stroke-width="0.5"/>
<path d="M360.8,528.5 Q357.8,574.5 360.8,620.5 L391.3,620.5 L391.3,528.5 Z" fill="#07077f" stroke="#111" stroke-width="0.5"/>
<path d="M483.3,528.5 L513.8,528.5 Q516.8,574.5 513.8,620.5 L483.3,620.5 Z" fill="#07077f" stroke="#111" stroke-width="0.5"/>
<defs><linearGradient id="sh15h" x1="0" y1="0" x2="1" y2="0"><stop offset="0" stop-color="#0e0ea8"/><stop offset="0.5" stop-color="#09098f"/><stop offset="1" stop-color="#040470"/></linearGradient>
<linearGradient id="sh15v" x1="0" y1="0" x2="0" y2="1"><stop offset="0" stop-color="#1616b4"/><stop offset="0.05" stop-color="#0c0c98"/><stop offset="0.1" stop-color="#040466"/><stop offset="0.3" stop-color="#050570"/><stop offset="0.5" stop-color="#08088a"/><stop offset="0.7" stop-color="#0a0a9a"/><stop offset="1" stop-color="#0a0a9a"/></linearGradient>
<linearGradient id="sh15l" x1="0" y1="0" x2="0" y2="1"><stop offset="0" stop-color="#3040ff" stop-opacity="0.3"/><stop offset="0.12" stop-color="#3040ff" stop-opacity="0"/><stop offset="0.9" stop-color="#000" stop-opacity="0"/><stop offset="1" stop-color="#000" stop-opacity="0.2"/></linearGradient></defs>
<path d="M391.3,498.0 Q437.3,495.0 483.3,498.0 L483.3,528.5 L391.3,528.5 Z" fill="url(#sh15h)"/>
<path d="M391.3,620.5 L483.3,620.5 L483.3,651.0 Q437.3,654.0 391.3,651.0 Z" fill="url(#sh15h)"/>
<path d="M391.3,498.0 Q437.3,495.0 483.3,498.0 L483.3,528.5 L391.3,528.5 Z" fill="url(#sh15l)"/>
<path d="M391.3,620.5 L483.3,620.5 L483.3,651.0 Q437.3,654.0 391.3,651.0 Z" fill="url(#sh15l)"/>
<path d="M360.8,528.5 Q357.8,574.5 360.8,620.5 L391.3,620.5 L391.3,528.5 Z" fill="url(#sh15v)"/>
<path d="M483.3,528.5 L513.8,528.5 Q516.8,574.5 513.8,620.5 L483.3,620.5 Z" fill="url(#sh15v)"/>
<path d="M437.3,495.8 V528.5 M437.3,620.5 V653.2 M358.6,574.5 H391.3 M483.3,574.5 H516.0" stroke="#000" stroke-width="0.7" opacity="0.7"/>
<circle cx="243.2" cy="802.0" r="42.5" fill="#07077f" stroke="#000" stroke-width="0.4"/>
<defs><radialGradient id="hm16" cx="0.4" cy="0.4" r="0.65"><stop offset="0" stop-color="#1424c4"/><stop offset="1" stop-color="#08088a"/></radialGradient></defs>
<circle cx="243.2" cy="751.5" r="18.0" fill="url(#hm16)" stroke="#000" stroke-width="0.3" stroke-opacity="0.5"/>
<defs><radialGradient id="hm17" cx="0.4" cy="0.4" r="0.65"><stop offset="0" stop-color="#1424c4"/><stop offset="1" stop-color="#08088a"/></radialGradient></defs>
<circle cx="243.2" cy="852.5" r="18.0" fill="url(#hm17)" stroke="#000" stroke-width="0.3" stroke-opacity="0.5"/>
<defs><radialGradient id="hm18" cx="0.4" cy="0.4" r="0.65"><stop offset="0" stop-color="#1424c4"/><stop offset="1" stop-color="#08088a"/></radialGradient></defs>
<circle cx="192.7" cy="802.0" r="18.0" fill="url(#hm18)" stroke="#000" stroke-width="0.3" stroke-opacity="0.5"/>
<defs><radialGradient id="hm19" cx="0.4" cy="0.4" r="0.65"><stop offset="0" stop-color="#1424c4"/><stop offset="1" stop-color="#08088a"/></radialGradient></defs>
<circle cx="293.7" cy="802.0" r="18.0" fill="url(#hm19)" stroke="#000" stroke-width="0.3" stroke-opacity="0.5"/>
<defs><radialGradient id="fr20" gradientUnits="userSpaceOnUse" cx="243.2" cy="802.0" r="45.5"><stop offset="0.62" stop-color="#0018d8"/><stop offset="0.68" stop-color="#0050ff"/><stop offset="0.76" stop-color="#00b8ff"/><stop offset="0.84" stop-color="#40f8d0"/><stop offset="0.9" stop-color="#ffe800"/><stop offset="0.95" stop-color="#ff6000"/><stop offset="1" stop-color="#d00000"/></radialGradient></defs>
<path d="M211.0,769.8 h64.4 v64.4 h-64.4 Z M216.6,775.4 v53.2 h53.2 v-53.2 Z" fill="url(#fr20)" fill-rule="evenodd" stroke="#000" stroke-width="0.3" stroke-opacity="0.6"/>
<defs><linearGradient id="tb21" x1="0" y1="0" x2="1" y2="1"><stop offset="0" stop-color="#20c0e8"/><stop offset="0.5" stop-color="#50f0d0"/><stop offset="1" stop-color="#20b0e0"/></linearGradient></defs>
<rect x="238.7" y="769.8" width="9.0" height="13.0" fill="url(#tb21)" stroke="#000" stroke-width="0.3" stroke-opacity="0.6"/>
<path d="M243.2,770.8 v11.0" stroke="#000" stroke-width="0.4" stroke-opacity="0.5"/>
<defs><linearGradient id="tb22" x1="0" y1="0" x2="1" y2="1"><stop offset="0" stop-color="#20c0e8"/><stop offset="0.5" stop-color="#50f0d0"/><stop offset="1" stop-color="#20b0e0"/></linearGradient></defs>
<rect x="238.7" y="821.2" width="9.0" height="13.0" fill="url(#tb22)" stroke="#000" stroke-width="0.3" stroke-opacity="0.6"/>
<path d="M243.2,822.2 v11.0" stroke="#000" stroke-width="0.4" stroke-opacity="0.5"/>
<defs><linearGradient id="tb23" x1="0" y1="0" x2="1" y2="1"><stop offset="0" stop-color="#20c0e8"/><stop offset="0.5" stop-color="#50f0d0"/><stop offset="1" stop-color="#20b0e0"/></linearGradient></defs>
<rect x="211.0" y="797.5" width="13.0" height="9.0" fill="url(#tb23)" stroke="#000" stroke-width="0.3" stroke-opacity="0.6"/>
<path d="M212.0,802.0 h11.0" stroke="#000" stroke-width="0.4" stroke-opacity="0.5"/>
<defs><linearGradient id="tb24" x1="0" y1="0" x2="1" y2="1"><stop offset="0" stop-color="#20c0e8"/><stop offset="0.5" stop-color="#50f0d0"/><stop offset="1" stop-color="#20b0e0"/></linearGradient></defs>
<rect x="262.4" y="797.5" width="13.0" height="9.0" fill="url(#tb24)" stroke="#000" stroke-width="0.3" stroke-opacity="0.6"/>
<path d="M263.4,802.0 h11.0" stroke="#000" stroke-width="0.4" stroke-opacity="0.5"/>
<circle cx="243.2" cy="802.0" r="17.5" fill="#07077f" stroke="#000" stroke-width="0.5" stroke-opacity="0.6"/>
<path d="M197.2,725.5 Q243.2,722.5 289.2,725.5 L289.2,756.0 L197.2,756.0 Z" fill="#07077f" stroke="#111" stroke-width="0.5"/>
<path d="M197.2,848.0 L289.2,848.0 L289.2,878.5 Q243.2,881.5 197.2,878.5 Z" fill="#07077f" stroke="#111" stroke-width="0.5"/>
<path d="M166.7,756.0 Q163.7,802.0 166.7,848.0 L197.2,848.0 L197.2,756.0 Z" fill="#07077f" stroke="#111" stroke-width="0.5"/>
<path d="M289.2,756.0 L319.7,756.0 Q322.7,802.0 319.7,848.0 L289.2,848.0 Z" fill="#07077f" stroke="#111" stroke-width="0.5"/>
<defs><linearGradient id="sh25h" x1="0" y1="0" x2="1" y2="0"><stop offset="0" stop-color="#0e0ea8"/><stop offset="0.5" stop-color="#09098f"/><stop offset="1" stop-color="#040470"/></linearGradient>
<linearGradient id="sh25v" x1="0" y1="0" x2="0" y2="1"><stop offset="0" stop-color="#1616b4"/><stop offset="0.05" stop-color="#0c0c98"/><stop offset="0.1" stop-color="#040466"/><stop offset="0.3" stop-color="#050570"/><stop offset="0.5" stop-color="#08088a"/><stop offset="0.7" stop-color="#0a0a9a"/><stop offset="1" stop-color="#0a0a9a"/></linearGradient>
<linearGradient id="sh25l" x1="0" y1="0" x2="0" y2="1"><stop offset="0" stop-color="#3040ff" stop-opacity="0.3"/><stop offset="0.12" stop-color="#3040ff" stop-opacity="0"/><stop offset="0.9" stop-color="#000" stop-opacity="0"/><stop offset="1" stop-color="#000" stop-opacity="0.2"/></linearGradient></defs>
<path d="M197.2,725.5 Q243.2,722.5 289.2,725.5 L289.2,756.0 L197.2,756.0 Z" fill="url(#sh25h)"/>
<path d="M197.2,848.0 L289.2,848.0 L289.2,878.5 Q243.2,881.5 197.2,878.5 Z" fill="url(#sh25h)"/>
<path d="M197.2,725.5 Q243.2,722.5 289.2,725.5 L289.2,756.0 L197.2,756.0 Z" fill="url(#sh25l)"/>
<path d="M197.2,848.0 L289.2,848.0 L289.2,878.5 Q243.2,881.5 197.2,878.5 Z" fill="url(#sh25l)"/>
<path d="M166.7,756.0 Q163.7,802.0 166.7,848.0 L197.2,848.0 L197.2,756.0 Z" fill="url(#sh25v)"/>
<path d="M289.2,756.0 L319.7,756.0 Q322.7,802.0 319.7,848.0 L289.2,848.0 Z" fill="url(#sh25v)"/>
<path d="M243.2,723.3 V756.0 M243.2,848.0 V880.7 M164.5,802.0 H197.2 M289.2,802.0 H321.9" stroke="#000" stroke-width="0.7" opacity="0.7"/>
<circle cx="437.3" cy="802.3" r="42.5" fill="#07077f" stroke="#000" stroke-width="0.4"/>
<defs><linearGradient id="g4a32" x1="0" y1="0" x2="1" y2="1"><stop offset="0" stop-color="#0b0b8a"/><stop offset="0.2" stop-color="#ff3000"/><stop offset="0.45" stop-color="#ff2000"/><stop offset="0.55" stop-color="#d82000"/><stop offset="0.8" stop-color="#ff3000"/><stop offset="1" stop-color="#c01000"/></linearGradient>
<radialGradient id="g4b30" gradientUnits="userSpaceOnUse" cx="437.3" cy="802.3" r="46"><stop offset="0.38" stop-color="#00b0ff"/><stop offset="0.5" stop-color="#30f0d0"/><stop offset="0.62" stop-color="#c0ff40"/><stop offset="0.75" stop-color="#ffd000"/><stop offset="0.9" stop-color="#ff5000"/><stop offset="1" stop-color="#e02000"/></radialGradient>
<radialGradient id="g4c31" cx="0.5" cy="0.5" r="0.5"><stop offset="0" stop-color="#000898"/><stop offset="0.6" stop-color="#0838e0"/><stop offset="1" stop-color="#2888ff"/></radialGradient></defs>
<defs><linearGradient id="g4a322" x1="0" y1="0" x2="1" y2="0.3"><stop offset="0" stop-color="#e01000"/><stop offset="0.2" stop-color="#ffa000"/><stop offset="0.45" stop-color="#ff3000"/><stop offset="0.6" stop-color="#d01000"/><stop offset="0.8" stop-color="#ffb000"/><stop offset="1" stop-color="#ff6000"/></linearGradient></defs>
<circle cx="437.3" cy="802.3" r="42.5" fill="url(#g4a322)" stroke="#000" stroke-width="0.4"/>
<defs><radialGradient id="hm26" cx="0.4" cy="0.4" r="0.65"><stop offset="0" stop-color="#1424c4"/><stop offset="1" stop-color="#08088a"/></radialGradient></defs>
<circle cx="437.3" cy="751.8" r="18.0" fill="url(#hm26)" stroke="#000" stroke-width="0.3" stroke-opacity="0.5"/>
<defs><radialGradient id="hm27" cx="0.4" cy="0.4" r="0.65"><stop offset="0" stop-color="#1424c4"/><stop offset="1" stop-color="#08088a"/></radialGradient></defs>
<circle cx="437.3" cy="852.8" r="18.0" fill="url(#hm27)" stroke="#000" stroke-width="0.3" stroke-opacity="0.5"/>
<defs><radialGradient id="hm28" cx="0.4" cy="0.4" r="0.65"><stop offset="0" stop-color="#1424c4"/><stop offset="1" stop-color="#08088a"/></radialGradient></defs>
<circle cx="386.8" cy="802.3" r="18.0" fill="url(#hm28)" stroke="#000" stroke-width="0.3" stroke-opacity="0.5"/>
<defs><radialGradient id="hm29" cx="0.4" cy="0.4" r="0.65"><stop offset="0" stop-color="#1424c4"/><stop offset="1" stop-color="#08088a"/></radialGradient></defs>
<circle cx="487.8" cy="802.3" r="18.0" fill="url(#hm29)" stroke="#000" stroke-width="0.3" stroke-opacity="0.5"/>
<rect x="404.3" y="769.3" width="66.0" height="66.0" fill="url(#g4b30)"/>
<rect x="407.1" y="772.0" width="60.5" height="60.5" fill="none" stroke="#07077f" stroke-width="5.5"/>
<rect x="433.8" y="769.3" width="7" height="66.0" fill="#07077f"/>
<rect x="404.3" y="798.8" width="66.0" height="7" fill="#07077f"/>
<circle cx="437.3" cy="802.3" r="18.2" fill="url(#g4c31)" stroke="#000" stroke-width="0.4"/>
<path d="M391.3,725.8 Q437.3,722.8 483.3,725.8 L483.3,756.3 L391.3,756.3 Z" fill="#07077f" stroke="#111" stroke-width="0.5"/>
<path d="M391.3,848.3 L483.3,848.3 L483.3,878.8 Q437.3,881.8 391.3,878.8 Z" fill="#07077f" stroke="#111" stroke-width="0.5"/>
<path d="M360.8,756.3 Q357.8,802.3 360.8,848.3 L391.3,848.3 L391.3,756.3 Z" fill="#07077f" stroke="#111" stroke-width="0.5"/>
<path d="M483.3,756.3 L513.8,756.3 Q516.8,802.3 513.8,848.3 L483.3,848.3 Z" fill="#07077f" stroke="#111" stroke-width="0.5"/>
<defs><linearGradient id="sh33h" x1="0" y1="0" x2="1" y2="0"><stop offset="0" stop-color="#0e0ea8"/><stop offset="0.5" stop-color="#09098f"/><stop offset="1" stop-color="#040470"/></linearGradient>
<linearGradient id="sh33v" x1="0" y1="0" x2="0" y2="1"><stop offset="0" stop-color="#1616b4"/><stop offset="0.05" stop-color="#0c0c98"/><stop offset="0.1" stop-color="#040466"/><stop offset="0.3" stop-color="#050570"/><stop offset="0.5" stop-color="#08088a"/><stop offset="0.7" stop-color="#0a0a9a"/><stop offset="1" stop-color="#0a0a9a"/></linearGradient>
<linearGradient id="sh33l" x1="0" y1="0" x2="0" y2="1"><stop offset="0" stop-color="#3040ff" stop-opacity="0.3"/><stop offset="0.12" stop-color="#3040ff" stop-opacity="0"/><stop offset="0.9" stop-color="#000" stop-opacity="0"/><stop offset="1" stop-color="#000" stop-opacity="0.2"/></linearGradient></defs>
<path d="M391.3,725.8 Q437.3,722.8 483.3,725.8 L483.3,756.3 L391.3,756.3 Z" fill="url(#sh33h)"/>
<path d="M391.3,848.3 L483.3,848.3 L483.3,878.8 Q437.3,881.8 391.3,878.8 Z" fill="url(#sh33h)"/>
<path d="M391.3,725.8 Q437.3,722.8 483.3,725.8 L483.3,756.3 L391.3,756.3 Z" fill="url(#sh33l)"/>
<path d="M391.3,848.3 L483.3,848.3 L483.3,878.8 Q437.3,881.8 391.3,878.8 Z" fill="url(#sh33l)"/>
<path d="M360.8,756.3 Q357.8,802.3 360.8,848.3 L391.3,848.3 L391.3,756.3 Z" fill="url(#sh33v)"/>
<path d="M483.3,756.3 L513.8,756.3 Q516.8,802.3 513.8,848.3 L483.3,848.3 Z" fill="url(#sh33v)"/>
<path d="M437.3,723.6 V756.3 M437.3,848.3 V881.0 M358.6,802.3 H391.3 M483.3,802.3 H516.0" stroke="#000" stroke-width="0.7" opacity="0.7"/>
<defs><linearGradient id="jet" x1="0" y1="1" x2="0" y2="0">
<stop offset="0.000" stop-color="#00007f"/>
<stop offset="0.062" stop-color="#0000bf"/>
<stop offset="0.125" stop-color="#0000ff"/>
<stop offset="0.188" stop-color="#003fff"/>
<stop offset="0.250" stop-color="#007fff"/>
<stop offset="0.312" stop-color="#00bfff"/>
<stop offset="0.375" stop-color="#00ffff"/>
<stop offset="0.438" stop-color="#3fffbf"/>
<stop offset="0.500" stop-color="#7fff7f"/>
<stop offset="0.562" stop-color="#bfff3f"/>
<stop offset="0.625" stop-color="#ffff00"/>
<stop offset="0.688" stop-color="#ffbf00"/>
<stop offset="0.750" stop-color="#ff7f00"/>
<stop offset="0.812" stop-color="#ff3f00"/>
<stop offset="0.875" stop-color="#ff0000"/>
<stop offset="0.938" stop-color="#bf0000"/>
<stop offset="1.000" stop-color="#7f0000"/>
</linearGradient></defs>
<rect x="524.2" y="530.5" width="15.8" height="309.0" fill="url(#jet)" stroke="#000" stroke-width="1"/>
<path d="M524.2,569.1 h2 M540.0,569.1 h-2" stroke="#000" stroke-width="0.8"/>
<path d="M524.2,607.8 h2 M540.0,607.8 h-2" stroke="#000" stroke-width="0.8"/>
<path d="M524.2,646.4 h2 M540.0,646.4 h-2" stroke="#000" stroke-width="0.8"/>
<path d="M524.2,685.0 h2 M540.0,685.0 h-2" stroke="#000" stroke-width="0.8"/>
<path d="M524.2,723.6 h2 M540.0,723.6 h-2" stroke="#000" stroke-width="0.8"/>
<path d="M524.2,762.2 h2 M540.0,762.2 h-2" stroke="#000" stroke-width="0.8"/>
<path d="M524.2,800.9 h2 M540.0,800.9 h-2" stroke="#000" stroke-width="0.8"/>
<text font-family="Liberation Serif, serif" font-size="29" x="532.4" y="525.5" text-anchor="middle">1</text>
<text font-family="Liberation Serif, serif" font-size="29" x="532.4" y="863.6" text-anchor="middle">0</text>
<text font-family="Liberation Serif, serif" font-size="31.3" transform="translate(568,808) rotate(-90)">Norm. displacement</text>
</svg>
</body></html>
